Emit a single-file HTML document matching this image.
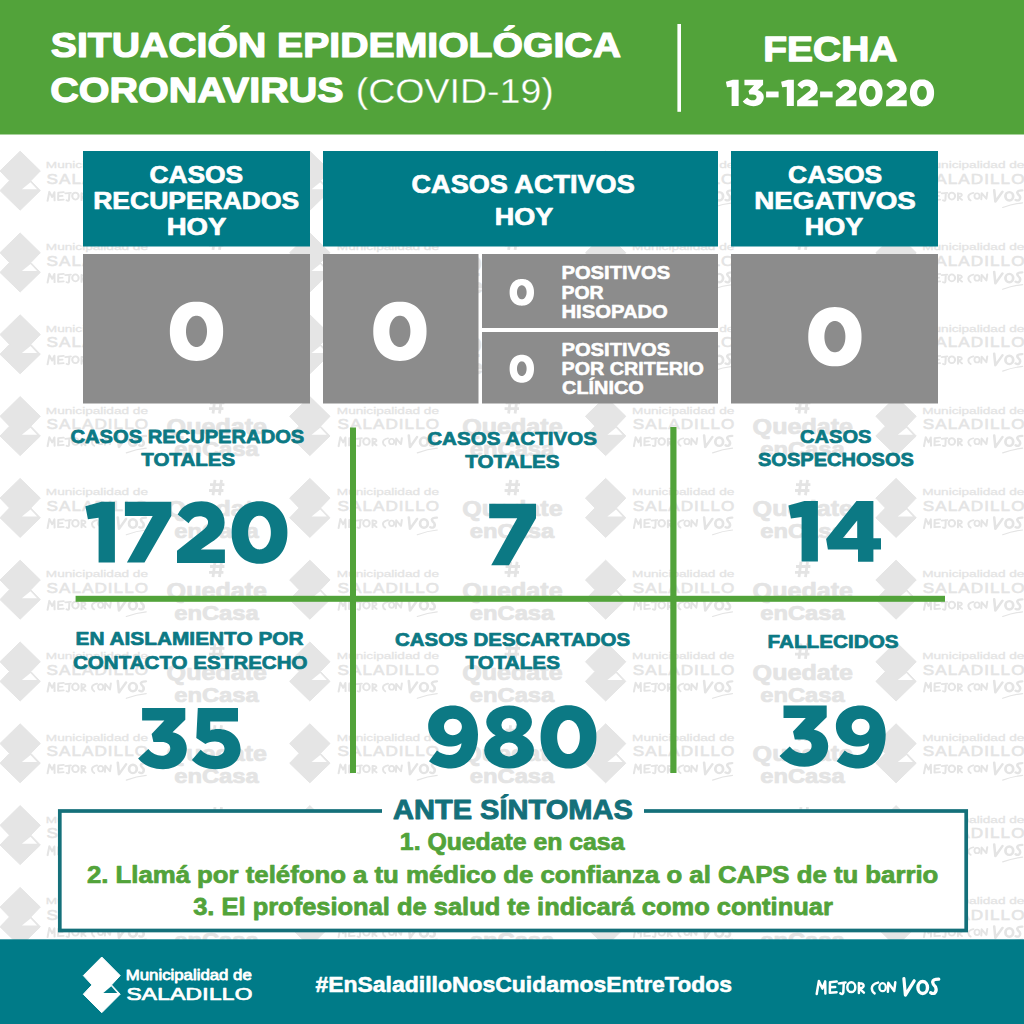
<!DOCTYPE html>
<html lang="es"><head><meta charset="utf-8"><title>Situación Epidemiológica Coronavirus</title>
<style>
html,body{margin:0;padding:0;background:#fff;width:1024px;height:1024px;overflow:hidden}
svg{display:block;font-family:"Liberation Sans",sans-serif}
</style></head><body>
<svg width="1024" height="1024" viewBox="0 0 1024 1024">
<rect x="0" y="0" width="1024" height="1024" fill="#fff"/>
<polygon points="20.15,69.40 40.30,89.11 30.83,98.96 40.30,108.81 20.15,128.40 0.00,108.81 9.47,98.96 0.00,89.11" fill="#e5e5e5" stroke="#e5e5e5" stroke-width="1" stroke-linejoin="round"/><polygon points="30.51,100.49 21.88,107.51 37.08,107.51" fill="#fff"/>
<use href="#mcv" style="color:#e4e4e4" transform="translate(46.70 107.50) scale(0.805 0.70) translate(-815.6 -977.5)" stroke-width="0.8"/>
<path d="M126.30,125.70 Q136.70,121.90 146.20,121.00" fill="none" stroke="#e4e4e4" stroke-width="1.2" stroke-linecap="round"/>
<polygon points="309.85,69.40 330.00,89.11 320.53,98.96 330.00,108.81 309.85,128.40 289.70,108.81 299.17,98.96 289.70,89.11" fill="#e5e5e5" stroke="#e5e5e5" stroke-width="1" stroke-linejoin="round"/><polygon points="320.21,100.49 311.58,107.51 326.78,107.51" fill="#fff"/>
<use href="#mcv" style="color:#e4e4e4" transform="translate(337.70 107.50) scale(0.805 0.70) translate(-815.6 -977.5)" stroke-width="0.8"/>
<path d="M417.30,125.70 Q427.70,121.90 437.20,121.00" fill="none" stroke="#e4e4e4" stroke-width="1.2" stroke-linecap="round"/>
<polygon points="605.65,69.40 625.80,89.11 616.33,98.96 625.80,108.81 605.65,128.40 585.50,108.81 594.97,98.96 585.50,89.11" fill="#e5e5e5" stroke="#e5e5e5" stroke-width="1" stroke-linejoin="round"/><polygon points="616.01,100.49 607.38,107.51 622.58,107.51" fill="#fff"/>
<use href="#mcv" style="color:#e4e4e4" transform="translate(633.00 107.50) scale(0.805 0.70) translate(-815.6 -977.5)" stroke-width="0.8"/>
<path d="M712.60,125.70 Q723.00,121.90 732.50,121.00" fill="none" stroke="#e4e4e4" stroke-width="1.2" stroke-linecap="round"/>
<polygon points="896.05,69.40 916.20,89.11 906.73,98.96 916.20,108.81 896.05,128.40 875.90,108.81 885.37,98.96 875.90,89.11" fill="#e5e5e5" stroke="#e5e5e5" stroke-width="1" stroke-linejoin="round"/><polygon points="906.41,100.49 897.78,107.51 912.98,107.51" fill="#fff"/>
<use href="#mcv" style="color:#e4e4e4" transform="translate(923.10 107.50) scale(0.805 0.70) translate(-815.6 -977.5)" stroke-width="0.8"/>
<path d="M1002.70,125.70 Q1013.10,121.90 1022.60,121.00" fill="none" stroke="#e4e4e4" stroke-width="1.2" stroke-linecap="round"/>
<path d="M215.00,70.90 L213.00,86.30 M221.50,70.90 L219.50,86.30 M210.00,75.70 L224.40,75.70 M209.00,81.50 L223.40,81.50" stroke="#e4e4e4" stroke-width="2.8" fill="none"/>
<path d="M510.60,70.90 L508.60,86.30 M517.10,70.90 L515.10,86.30 M505.60,75.70 L520.00,75.70 M504.60,81.50 L519.00,81.50" stroke="#e4e4e4" stroke-width="2.8" fill="none"/>
<path d="M801.00,70.90 L799.00,86.30 M807.50,70.90 L805.50,86.30 M796.00,75.70 L810.40,75.70 M795.00,81.50 L809.40,81.50" stroke="#e4e4e4" stroke-width="2.8" fill="none"/>
<polygon points="20.15,151.20 40.30,170.91 30.83,180.76 40.30,190.61 20.15,210.20 0.00,190.61 9.47,180.76 0.00,170.91" fill="#e5e5e5" stroke="#e5e5e5" stroke-width="1" stroke-linejoin="round"/><polygon points="30.51,182.29 21.88,189.31 37.08,189.31" fill="#fff"/>
<use href="#mcv" style="color:#e4e4e4" transform="translate(46.70 189.30) scale(0.805 0.70) translate(-815.6 -977.5)" stroke-width="0.8"/>
<path d="M126.30,207.50 Q136.70,203.70 146.20,202.80" fill="none" stroke="#e4e4e4" stroke-width="1.2" stroke-linecap="round"/>
<polygon points="309.85,151.20 330.00,170.91 320.53,180.76 330.00,190.61 309.85,210.20 289.70,190.61 299.17,180.76 289.70,170.91" fill="#e5e5e5" stroke="#e5e5e5" stroke-width="1" stroke-linejoin="round"/><polygon points="320.21,182.29 311.58,189.31 326.78,189.31" fill="#fff"/>
<use href="#mcv" style="color:#e4e4e4" transform="translate(337.70 189.30) scale(0.805 0.70) translate(-815.6 -977.5)" stroke-width="0.8"/>
<path d="M417.30,207.50 Q427.70,203.70 437.20,202.80" fill="none" stroke="#e4e4e4" stroke-width="1.2" stroke-linecap="round"/>
<polygon points="605.65,151.20 625.80,170.91 616.33,180.76 625.80,190.61 605.65,210.20 585.50,190.61 594.97,180.76 585.50,170.91" fill="#e5e5e5" stroke="#e5e5e5" stroke-width="1" stroke-linejoin="round"/><polygon points="616.01,182.29 607.38,189.31 622.58,189.31" fill="#fff"/>
<use href="#mcv" style="color:#e4e4e4" transform="translate(633.00 189.30) scale(0.805 0.70) translate(-815.6 -977.5)" stroke-width="0.8"/>
<path d="M712.60,207.50 Q723.00,203.70 732.50,202.80" fill="none" stroke="#e4e4e4" stroke-width="1.2" stroke-linecap="round"/>
<polygon points="896.05,151.20 916.20,170.91 906.73,180.76 916.20,190.61 896.05,210.20 875.90,190.61 885.37,180.76 875.90,170.91" fill="#e5e5e5" stroke="#e5e5e5" stroke-width="1" stroke-linejoin="round"/><polygon points="906.41,182.29 897.78,189.31 912.98,189.31" fill="#fff"/>
<use href="#mcv" style="color:#e4e4e4" transform="translate(923.10 189.30) scale(0.805 0.70) translate(-815.6 -977.5)" stroke-width="0.8"/>
<path d="M1002.70,207.50 Q1013.10,203.70 1022.60,202.80" fill="none" stroke="#e4e4e4" stroke-width="1.2" stroke-linecap="round"/>
<path d="M215.00,152.70 L213.00,168.10 M221.50,152.70 L219.50,168.10 M210.00,157.50 L224.40,157.50 M209.00,163.30 L223.40,163.30" stroke="#e4e4e4" stroke-width="2.8" fill="none"/>
<path d="M510.60,152.70 L508.60,168.10 M517.10,152.70 L515.10,168.10 M505.60,157.50 L520.00,157.50 M504.60,163.30 L519.00,163.30" stroke="#e4e4e4" stroke-width="2.8" fill="none"/>
<path d="M801.00,152.70 L799.00,168.10 M807.50,152.70 L805.50,168.10 M796.00,157.50 L810.40,157.50 M795.00,163.30 L809.40,163.30" stroke="#e4e4e4" stroke-width="2.8" fill="none"/>
<polygon points="20.15,233.00 40.30,252.71 30.83,262.56 40.30,272.41 20.15,292.00 0.00,272.41 9.47,262.56 0.00,252.71" fill="#e5e5e5" stroke="#e5e5e5" stroke-width="1" stroke-linejoin="round"/><polygon points="30.51,264.09 21.88,271.11 37.08,271.11" fill="#fff"/>
<use href="#mcv" style="color:#e4e4e4" transform="translate(46.70 271.10) scale(0.805 0.70) translate(-815.6 -977.5)" stroke-width="0.8"/>
<path d="M126.30,289.30 Q136.70,285.50 146.20,284.60" fill="none" stroke="#e4e4e4" stroke-width="1.2" stroke-linecap="round"/>
<polygon points="309.85,233.00 330.00,252.71 320.53,262.56 330.00,272.41 309.85,292.00 289.70,272.41 299.17,262.56 289.70,252.71" fill="#e5e5e5" stroke="#e5e5e5" stroke-width="1" stroke-linejoin="round"/><polygon points="320.21,264.09 311.58,271.11 326.78,271.11" fill="#fff"/>
<use href="#mcv" style="color:#e4e4e4" transform="translate(337.70 271.10) scale(0.805 0.70) translate(-815.6 -977.5)" stroke-width="0.8"/>
<path d="M417.30,289.30 Q427.70,285.50 437.20,284.60" fill="none" stroke="#e4e4e4" stroke-width="1.2" stroke-linecap="round"/>
<polygon points="605.65,233.00 625.80,252.71 616.33,262.56 625.80,272.41 605.65,292.00 585.50,272.41 594.97,262.56 585.50,252.71" fill="#e5e5e5" stroke="#e5e5e5" stroke-width="1" stroke-linejoin="round"/><polygon points="616.01,264.09 607.38,271.11 622.58,271.11" fill="#fff"/>
<use href="#mcv" style="color:#e4e4e4" transform="translate(633.00 271.10) scale(0.805 0.70) translate(-815.6 -977.5)" stroke-width="0.8"/>
<path d="M712.60,289.30 Q723.00,285.50 732.50,284.60" fill="none" stroke="#e4e4e4" stroke-width="1.2" stroke-linecap="round"/>
<polygon points="896.05,233.00 916.20,252.71 906.73,262.56 916.20,272.41 896.05,292.00 875.90,272.41 885.37,262.56 875.90,252.71" fill="#e5e5e5" stroke="#e5e5e5" stroke-width="1" stroke-linejoin="round"/><polygon points="906.41,264.09 897.78,271.11 912.98,271.11" fill="#fff"/>
<use href="#mcv" style="color:#e4e4e4" transform="translate(923.10 271.10) scale(0.805 0.70) translate(-815.6 -977.5)" stroke-width="0.8"/>
<path d="M1002.70,289.30 Q1013.10,285.50 1022.60,284.60" fill="none" stroke="#e4e4e4" stroke-width="1.2" stroke-linecap="round"/>
<path d="M215.00,234.50 L213.00,249.90 M221.50,234.50 L219.50,249.90 M210.00,239.30 L224.40,239.30 M209.00,245.10 L223.40,245.10" stroke="#e4e4e4" stroke-width="2.8" fill="none"/>
<path d="M510.60,234.50 L508.60,249.90 M517.10,234.50 L515.10,249.90 M505.60,239.30 L520.00,239.30 M504.60,245.10 L519.00,245.10" stroke="#e4e4e4" stroke-width="2.8" fill="none"/>
<path d="M801.00,234.50 L799.00,249.90 M807.50,234.50 L805.50,249.90 M796.00,239.30 L810.40,239.30 M795.00,245.10 L809.40,245.10" stroke="#e4e4e4" stroke-width="2.8" fill="none"/>
<polygon points="20.15,314.80 40.30,334.51 30.83,344.36 40.30,354.21 20.15,373.80 0.00,354.21 9.47,344.36 0.00,334.51" fill="#e5e5e5" stroke="#e5e5e5" stroke-width="1" stroke-linejoin="round"/><polygon points="30.51,345.89 21.88,352.91 37.08,352.91" fill="#fff"/>
<use href="#mcv" style="color:#e4e4e4" transform="translate(46.70 352.90) scale(0.805 0.70) translate(-815.6 -977.5)" stroke-width="0.8"/>
<path d="M126.30,371.10 Q136.70,367.30 146.20,366.40" fill="none" stroke="#e4e4e4" stroke-width="1.2" stroke-linecap="round"/>
<polygon points="309.85,314.80 330.00,334.51 320.53,344.36 330.00,354.21 309.85,373.80 289.70,354.21 299.17,344.36 289.70,334.51" fill="#e5e5e5" stroke="#e5e5e5" stroke-width="1" stroke-linejoin="round"/><polygon points="320.21,345.89 311.58,352.91 326.78,352.91" fill="#fff"/>
<use href="#mcv" style="color:#e4e4e4" transform="translate(337.70 352.90) scale(0.805 0.70) translate(-815.6 -977.5)" stroke-width="0.8"/>
<path d="M417.30,371.10 Q427.70,367.30 437.20,366.40" fill="none" stroke="#e4e4e4" stroke-width="1.2" stroke-linecap="round"/>
<polygon points="605.65,314.80 625.80,334.51 616.33,344.36 625.80,354.21 605.65,373.80 585.50,354.21 594.97,344.36 585.50,334.51" fill="#e5e5e5" stroke="#e5e5e5" stroke-width="1" stroke-linejoin="round"/><polygon points="616.01,345.89 607.38,352.91 622.58,352.91" fill="#fff"/>
<use href="#mcv" style="color:#e4e4e4" transform="translate(633.00 352.90) scale(0.805 0.70) translate(-815.6 -977.5)" stroke-width="0.8"/>
<path d="M712.60,371.10 Q723.00,367.30 732.50,366.40" fill="none" stroke="#e4e4e4" stroke-width="1.2" stroke-linecap="round"/>
<polygon points="896.05,314.80 916.20,334.51 906.73,344.36 916.20,354.21 896.05,373.80 875.90,354.21 885.37,344.36 875.90,334.51" fill="#e5e5e5" stroke="#e5e5e5" stroke-width="1" stroke-linejoin="round"/><polygon points="906.41,345.89 897.78,352.91 912.98,352.91" fill="#fff"/>
<use href="#mcv" style="color:#e4e4e4" transform="translate(923.10 352.90) scale(0.805 0.70) translate(-815.6 -977.5)" stroke-width="0.8"/>
<path d="M1002.70,371.10 Q1013.10,367.30 1022.60,366.40" fill="none" stroke="#e4e4e4" stroke-width="1.2" stroke-linecap="round"/>
<path d="M215.00,316.30 L213.00,331.70 M221.50,316.30 L219.50,331.70 M210.00,321.10 L224.40,321.10 M209.00,326.90 L223.40,326.90" stroke="#e4e4e4" stroke-width="2.8" fill="none"/>
<path d="M510.60,316.30 L508.60,331.70 M517.10,316.30 L515.10,331.70 M505.60,321.10 L520.00,321.10 M504.60,326.90 L519.00,326.90" stroke="#e4e4e4" stroke-width="2.8" fill="none"/>
<path d="M801.00,316.30 L799.00,331.70 M807.50,316.30 L805.50,331.70 M796.00,321.10 L810.40,321.10 M795.00,326.90 L809.40,326.90" stroke="#e4e4e4" stroke-width="2.8" fill="none"/>
<polygon points="20.15,396.60 40.30,416.31 30.83,426.16 40.30,436.01 20.15,455.60 0.00,436.01 9.47,426.16 0.00,416.31" fill="#e5e5e5" stroke="#e5e5e5" stroke-width="1" stroke-linejoin="round"/><polygon points="30.51,427.69 21.88,434.71 37.08,434.71" fill="#fff"/>
<use href="#mcv" style="color:#e4e4e4" transform="translate(46.70 434.70) scale(0.805 0.70) translate(-815.6 -977.5)" stroke-width="0.8"/>
<path d="M126.30,452.90 Q136.70,449.10 146.20,448.20" fill="none" stroke="#e4e4e4" stroke-width="1.2" stroke-linecap="round"/>
<polygon points="309.85,396.60 330.00,416.31 320.53,426.16 330.00,436.01 309.85,455.60 289.70,436.01 299.17,426.16 289.70,416.31" fill="#e5e5e5" stroke="#e5e5e5" stroke-width="1" stroke-linejoin="round"/><polygon points="320.21,427.69 311.58,434.71 326.78,434.71" fill="#fff"/>
<use href="#mcv" style="color:#e4e4e4" transform="translate(337.70 434.70) scale(0.805 0.70) translate(-815.6 -977.5)" stroke-width="0.8"/>
<path d="M417.30,452.90 Q427.70,449.10 437.20,448.20" fill="none" stroke="#e4e4e4" stroke-width="1.2" stroke-linecap="round"/>
<polygon points="605.65,396.60 625.80,416.31 616.33,426.16 625.80,436.01 605.65,455.60 585.50,436.01 594.97,426.16 585.50,416.31" fill="#e5e5e5" stroke="#e5e5e5" stroke-width="1" stroke-linejoin="round"/><polygon points="616.01,427.69 607.38,434.71 622.58,434.71" fill="#fff"/>
<use href="#mcv" style="color:#e4e4e4" transform="translate(633.00 434.70) scale(0.805 0.70) translate(-815.6 -977.5)" stroke-width="0.8"/>
<path d="M712.60,452.90 Q723.00,449.10 732.50,448.20" fill="none" stroke="#e4e4e4" stroke-width="1.2" stroke-linecap="round"/>
<polygon points="896.05,396.60 916.20,416.31 906.73,426.16 916.20,436.01 896.05,455.60 875.90,436.01 885.37,426.16 875.90,416.31" fill="#e5e5e5" stroke="#e5e5e5" stroke-width="1" stroke-linejoin="round"/><polygon points="906.41,427.69 897.78,434.71 912.98,434.71" fill="#fff"/>
<use href="#mcv" style="color:#e4e4e4" transform="translate(923.10 434.70) scale(0.805 0.70) translate(-815.6 -977.5)" stroke-width="0.8"/>
<path d="M1002.70,452.90 Q1013.10,449.10 1022.60,448.20" fill="none" stroke="#e4e4e4" stroke-width="1.2" stroke-linecap="round"/>
<path d="M215.00,398.10 L213.00,413.50 M221.50,398.10 L219.50,413.50 M210.00,402.90 L224.40,402.90 M209.00,408.70 L223.40,408.70" stroke="#e4e4e4" stroke-width="2.8" fill="none"/>
<path d="M510.60,398.10 L508.60,413.50 M517.10,398.10 L515.10,413.50 M505.60,402.90 L520.00,402.90 M504.60,408.70 L519.00,408.70" stroke="#e4e4e4" stroke-width="2.8" fill="none"/>
<path d="M801.00,398.10 L799.00,413.50 M807.50,398.10 L805.50,413.50 M796.00,402.90 L810.40,402.90 M795.00,408.70 L809.40,408.70" stroke="#e4e4e4" stroke-width="2.8" fill="none"/>
<polygon points="20.15,478.40 40.30,498.11 30.83,507.96 40.30,517.81 20.15,537.40 0.00,517.81 9.47,507.96 0.00,498.11" fill="#e5e5e5" stroke="#e5e5e5" stroke-width="1" stroke-linejoin="round"/><polygon points="30.51,509.49 21.88,516.51 37.08,516.51" fill="#fff"/>
<use href="#mcv" style="color:#e4e4e4" transform="translate(46.70 516.50) scale(0.805 0.70) translate(-815.6 -977.5)" stroke-width="0.8"/>
<path d="M126.30,534.70 Q136.70,530.90 146.20,530.00" fill="none" stroke="#e4e4e4" stroke-width="1.2" stroke-linecap="round"/>
<polygon points="309.85,478.40 330.00,498.11 320.53,507.96 330.00,517.81 309.85,537.40 289.70,517.81 299.17,507.96 289.70,498.11" fill="#e5e5e5" stroke="#e5e5e5" stroke-width="1" stroke-linejoin="round"/><polygon points="320.21,509.49 311.58,516.51 326.78,516.51" fill="#fff"/>
<use href="#mcv" style="color:#e4e4e4" transform="translate(337.70 516.50) scale(0.805 0.70) translate(-815.6 -977.5)" stroke-width="0.8"/>
<path d="M417.30,534.70 Q427.70,530.90 437.20,530.00" fill="none" stroke="#e4e4e4" stroke-width="1.2" stroke-linecap="round"/>
<polygon points="605.65,478.40 625.80,498.11 616.33,507.96 625.80,517.81 605.65,537.40 585.50,517.81 594.97,507.96 585.50,498.11" fill="#e5e5e5" stroke="#e5e5e5" stroke-width="1" stroke-linejoin="round"/><polygon points="616.01,509.49 607.38,516.51 622.58,516.51" fill="#fff"/>
<use href="#mcv" style="color:#e4e4e4" transform="translate(633.00 516.50) scale(0.805 0.70) translate(-815.6 -977.5)" stroke-width="0.8"/>
<path d="M712.60,534.70 Q723.00,530.90 732.50,530.00" fill="none" stroke="#e4e4e4" stroke-width="1.2" stroke-linecap="round"/>
<polygon points="896.05,478.40 916.20,498.11 906.73,507.96 916.20,517.81 896.05,537.40 875.90,517.81 885.37,507.96 875.90,498.11" fill="#e5e5e5" stroke="#e5e5e5" stroke-width="1" stroke-linejoin="round"/><polygon points="906.41,509.49 897.78,516.51 912.98,516.51" fill="#fff"/>
<use href="#mcv" style="color:#e4e4e4" transform="translate(923.10 516.50) scale(0.805 0.70) translate(-815.6 -977.5)" stroke-width="0.8"/>
<path d="M1002.70,534.70 Q1013.10,530.90 1022.60,530.00" fill="none" stroke="#e4e4e4" stroke-width="1.2" stroke-linecap="round"/>
<path d="M215.00,479.90 L213.00,495.30 M221.50,479.90 L219.50,495.30 M210.00,484.70 L224.40,484.70 M209.00,490.50 L223.40,490.50" stroke="#e4e4e4" stroke-width="2.8" fill="none"/>
<path d="M510.60,479.90 L508.60,495.30 M517.10,479.90 L515.10,495.30 M505.60,484.70 L520.00,484.70 M504.60,490.50 L519.00,490.50" stroke="#e4e4e4" stroke-width="2.8" fill="none"/>
<path d="M801.00,479.90 L799.00,495.30 M807.50,479.90 L805.50,495.30 M796.00,484.70 L810.40,484.70 M795.00,490.50 L809.40,490.50" stroke="#e4e4e4" stroke-width="2.8" fill="none"/>
<polygon points="20.15,560.20 40.30,579.91 30.83,589.76 40.30,599.61 20.15,619.20 0.00,599.61 9.47,589.76 0.00,579.91" fill="#e5e5e5" stroke="#e5e5e5" stroke-width="1" stroke-linejoin="round"/><polygon points="30.51,591.29 21.88,598.31 37.08,598.31" fill="#fff"/>
<use href="#mcv" style="color:#e4e4e4" transform="translate(46.70 598.30) scale(0.805 0.70) translate(-815.6 -977.5)" stroke-width="0.8"/>
<path d="M126.30,616.50 Q136.70,612.70 146.20,611.80" fill="none" stroke="#e4e4e4" stroke-width="1.2" stroke-linecap="round"/>
<polygon points="309.85,560.20 330.00,579.91 320.53,589.76 330.00,599.61 309.85,619.20 289.70,599.61 299.17,589.76 289.70,579.91" fill="#e5e5e5" stroke="#e5e5e5" stroke-width="1" stroke-linejoin="round"/><polygon points="320.21,591.29 311.58,598.31 326.78,598.31" fill="#fff"/>
<use href="#mcv" style="color:#e4e4e4" transform="translate(337.70 598.30) scale(0.805 0.70) translate(-815.6 -977.5)" stroke-width="0.8"/>
<path d="M417.30,616.50 Q427.70,612.70 437.20,611.80" fill="none" stroke="#e4e4e4" stroke-width="1.2" stroke-linecap="round"/>
<polygon points="605.65,560.20 625.80,579.91 616.33,589.76 625.80,599.61 605.65,619.20 585.50,599.61 594.97,589.76 585.50,579.91" fill="#e5e5e5" stroke="#e5e5e5" stroke-width="1" stroke-linejoin="round"/><polygon points="616.01,591.29 607.38,598.31 622.58,598.31" fill="#fff"/>
<use href="#mcv" style="color:#e4e4e4" transform="translate(633.00 598.30) scale(0.805 0.70) translate(-815.6 -977.5)" stroke-width="0.8"/>
<path d="M712.60,616.50 Q723.00,612.70 732.50,611.80" fill="none" stroke="#e4e4e4" stroke-width="1.2" stroke-linecap="round"/>
<polygon points="896.05,560.20 916.20,579.91 906.73,589.76 916.20,599.61 896.05,619.20 875.90,599.61 885.37,589.76 875.90,579.91" fill="#e5e5e5" stroke="#e5e5e5" stroke-width="1" stroke-linejoin="round"/><polygon points="906.41,591.29 897.78,598.31 912.98,598.31" fill="#fff"/>
<use href="#mcv" style="color:#e4e4e4" transform="translate(923.10 598.30) scale(0.805 0.70) translate(-815.6 -977.5)" stroke-width="0.8"/>
<path d="M1002.70,616.50 Q1013.10,612.70 1022.60,611.80" fill="none" stroke="#e4e4e4" stroke-width="1.2" stroke-linecap="round"/>
<path d="M215.00,561.70 L213.00,577.10 M221.50,561.70 L219.50,577.10 M210.00,566.50 L224.40,566.50 M209.00,572.30 L223.40,572.30" stroke="#e4e4e4" stroke-width="2.8" fill="none"/>
<path d="M510.60,561.70 L508.60,577.10 M517.10,561.70 L515.10,577.10 M505.60,566.50 L520.00,566.50 M504.60,572.30 L519.00,572.30" stroke="#e4e4e4" stroke-width="2.8" fill="none"/>
<path d="M801.00,561.70 L799.00,577.10 M807.50,561.70 L805.50,577.10 M796.00,566.50 L810.40,566.50 M795.00,572.30 L809.40,572.30" stroke="#e4e4e4" stroke-width="2.8" fill="none"/>
<polygon points="20.15,642.00 40.30,661.71 30.83,671.56 40.30,681.41 20.15,701.00 0.00,681.41 9.47,671.56 0.00,661.71" fill="#e5e5e5" stroke="#e5e5e5" stroke-width="1" stroke-linejoin="round"/><polygon points="30.51,673.09 21.88,680.11 37.08,680.11" fill="#fff"/>
<use href="#mcv" style="color:#e4e4e4" transform="translate(46.70 680.10) scale(0.805 0.70) translate(-815.6 -977.5)" stroke-width="0.8"/>
<path d="M126.30,698.30 Q136.70,694.50 146.20,693.60" fill="none" stroke="#e4e4e4" stroke-width="1.2" stroke-linecap="round"/>
<polygon points="309.85,642.00 330.00,661.71 320.53,671.56 330.00,681.41 309.85,701.00 289.70,681.41 299.17,671.56 289.70,661.71" fill="#e5e5e5" stroke="#e5e5e5" stroke-width="1" stroke-linejoin="round"/><polygon points="320.21,673.09 311.58,680.11 326.78,680.11" fill="#fff"/>
<use href="#mcv" style="color:#e4e4e4" transform="translate(337.70 680.10) scale(0.805 0.70) translate(-815.6 -977.5)" stroke-width="0.8"/>
<path d="M417.30,698.30 Q427.70,694.50 437.20,693.60" fill="none" stroke="#e4e4e4" stroke-width="1.2" stroke-linecap="round"/>
<polygon points="605.65,642.00 625.80,661.71 616.33,671.56 625.80,681.41 605.65,701.00 585.50,681.41 594.97,671.56 585.50,661.71" fill="#e5e5e5" stroke="#e5e5e5" stroke-width="1" stroke-linejoin="round"/><polygon points="616.01,673.09 607.38,680.11 622.58,680.11" fill="#fff"/>
<use href="#mcv" style="color:#e4e4e4" transform="translate(633.00 680.10) scale(0.805 0.70) translate(-815.6 -977.5)" stroke-width="0.8"/>
<path d="M712.60,698.30 Q723.00,694.50 732.50,693.60" fill="none" stroke="#e4e4e4" stroke-width="1.2" stroke-linecap="round"/>
<polygon points="896.05,642.00 916.20,661.71 906.73,671.56 916.20,681.41 896.05,701.00 875.90,681.41 885.37,671.56 875.90,661.71" fill="#e5e5e5" stroke="#e5e5e5" stroke-width="1" stroke-linejoin="round"/><polygon points="906.41,673.09 897.78,680.11 912.98,680.11" fill="#fff"/>
<use href="#mcv" style="color:#e4e4e4" transform="translate(923.10 680.10) scale(0.805 0.70) translate(-815.6 -977.5)" stroke-width="0.8"/>
<path d="M1002.70,698.30 Q1013.10,694.50 1022.60,693.60" fill="none" stroke="#e4e4e4" stroke-width="1.2" stroke-linecap="round"/>
<path d="M215.00,643.50 L213.00,658.90 M221.50,643.50 L219.50,658.90 M210.00,648.30 L224.40,648.30 M209.00,654.10 L223.40,654.10" stroke="#e4e4e4" stroke-width="2.8" fill="none"/>
<path d="M510.60,643.50 L508.60,658.90 M517.10,643.50 L515.10,658.90 M505.60,648.30 L520.00,648.30 M504.60,654.10 L519.00,654.10" stroke="#e4e4e4" stroke-width="2.8" fill="none"/>
<path d="M801.00,643.50 L799.00,658.90 M807.50,643.50 L805.50,658.90 M796.00,648.30 L810.40,648.30 M795.00,654.10 L809.40,654.10" stroke="#e4e4e4" stroke-width="2.8" fill="none"/>
<polygon points="20.15,723.80 40.30,743.51 30.83,753.36 40.30,763.21 20.15,782.80 0.00,763.21 9.47,753.36 0.00,743.51" fill="#e5e5e5" stroke="#e5e5e5" stroke-width="1" stroke-linejoin="round"/><polygon points="30.51,754.89 21.88,761.91 37.08,761.91" fill="#fff"/>
<use href="#mcv" style="color:#e4e4e4" transform="translate(46.70 761.90) scale(0.805 0.70) translate(-815.6 -977.5)" stroke-width="0.8"/>
<path d="M126.30,780.10 Q136.70,776.30 146.20,775.40" fill="none" stroke="#e4e4e4" stroke-width="1.2" stroke-linecap="round"/>
<polygon points="309.85,723.80 330.00,743.51 320.53,753.36 330.00,763.21 309.85,782.80 289.70,763.21 299.17,753.36 289.70,743.51" fill="#e5e5e5" stroke="#e5e5e5" stroke-width="1" stroke-linejoin="round"/><polygon points="320.21,754.89 311.58,761.91 326.78,761.91" fill="#fff"/>
<use href="#mcv" style="color:#e4e4e4" transform="translate(337.70 761.90) scale(0.805 0.70) translate(-815.6 -977.5)" stroke-width="0.8"/>
<path d="M417.30,780.10 Q427.70,776.30 437.20,775.40" fill="none" stroke="#e4e4e4" stroke-width="1.2" stroke-linecap="round"/>
<polygon points="605.65,723.80 625.80,743.51 616.33,753.36 625.80,763.21 605.65,782.80 585.50,763.21 594.97,753.36 585.50,743.51" fill="#e5e5e5" stroke="#e5e5e5" stroke-width="1" stroke-linejoin="round"/><polygon points="616.01,754.89 607.38,761.91 622.58,761.91" fill="#fff"/>
<use href="#mcv" style="color:#e4e4e4" transform="translate(633.00 761.90) scale(0.805 0.70) translate(-815.6 -977.5)" stroke-width="0.8"/>
<path d="M712.60,780.10 Q723.00,776.30 732.50,775.40" fill="none" stroke="#e4e4e4" stroke-width="1.2" stroke-linecap="round"/>
<polygon points="896.05,723.80 916.20,743.51 906.73,753.36 916.20,763.21 896.05,782.80 875.90,763.21 885.37,753.36 875.90,743.51" fill="#e5e5e5" stroke="#e5e5e5" stroke-width="1" stroke-linejoin="round"/><polygon points="906.41,754.89 897.78,761.91 912.98,761.91" fill="#fff"/>
<use href="#mcv" style="color:#e4e4e4" transform="translate(923.10 761.90) scale(0.805 0.70) translate(-815.6 -977.5)" stroke-width="0.8"/>
<path d="M1002.70,780.10 Q1013.10,776.30 1022.60,775.40" fill="none" stroke="#e4e4e4" stroke-width="1.2" stroke-linecap="round"/>
<path d="M215.00,725.30 L213.00,740.70 M221.50,725.30 L219.50,740.70 M210.00,730.10 L224.40,730.10 M209.00,735.90 L223.40,735.90" stroke="#e4e4e4" stroke-width="2.8" fill="none"/>
<path d="M510.60,725.30 L508.60,740.70 M517.10,725.30 L515.10,740.70 M505.60,730.10 L520.00,730.10 M504.60,735.90 L519.00,735.90" stroke="#e4e4e4" stroke-width="2.8" fill="none"/>
<path d="M801.00,725.30 L799.00,740.70 M807.50,725.30 L805.50,740.70 M796.00,730.10 L810.40,730.10 M795.00,735.90 L809.40,735.90" stroke="#e4e4e4" stroke-width="2.8" fill="none"/>
<polygon points="20.15,805.60 40.30,825.31 30.83,835.16 40.30,845.01 20.15,864.60 0.00,845.01 9.47,835.16 0.00,825.31" fill="#e5e5e5" stroke="#e5e5e5" stroke-width="1" stroke-linejoin="round"/><polygon points="30.51,836.69 21.88,843.71 37.08,843.71" fill="#fff"/>
<use href="#mcv" style="color:#e4e4e4" transform="translate(46.70 843.70) scale(0.805 0.70) translate(-815.6 -977.5)" stroke-width="0.8"/>
<path d="M126.30,861.90 Q136.70,858.10 146.20,857.20" fill="none" stroke="#e4e4e4" stroke-width="1.2" stroke-linecap="round"/>
<polygon points="309.85,805.60 330.00,825.31 320.53,835.16 330.00,845.01 309.85,864.60 289.70,845.01 299.17,835.16 289.70,825.31" fill="#e5e5e5" stroke="#e5e5e5" stroke-width="1" stroke-linejoin="round"/><polygon points="320.21,836.69 311.58,843.71 326.78,843.71" fill="#fff"/>
<use href="#mcv" style="color:#e4e4e4" transform="translate(337.70 843.70) scale(0.805 0.70) translate(-815.6 -977.5)" stroke-width="0.8"/>
<path d="M417.30,861.90 Q427.70,858.10 437.20,857.20" fill="none" stroke="#e4e4e4" stroke-width="1.2" stroke-linecap="round"/>
<polygon points="605.65,805.60 625.80,825.31 616.33,835.16 625.80,845.01 605.65,864.60 585.50,845.01 594.97,835.16 585.50,825.31" fill="#e5e5e5" stroke="#e5e5e5" stroke-width="1" stroke-linejoin="round"/><polygon points="616.01,836.69 607.38,843.71 622.58,843.71" fill="#fff"/>
<use href="#mcv" style="color:#e4e4e4" transform="translate(633.00 843.70) scale(0.805 0.70) translate(-815.6 -977.5)" stroke-width="0.8"/>
<path d="M712.60,861.90 Q723.00,858.10 732.50,857.20" fill="none" stroke="#e4e4e4" stroke-width="1.2" stroke-linecap="round"/>
<polygon points="896.05,805.60 916.20,825.31 906.73,835.16 916.20,845.01 896.05,864.60 875.90,845.01 885.37,835.16 875.90,825.31" fill="#e5e5e5" stroke="#e5e5e5" stroke-width="1" stroke-linejoin="round"/><polygon points="906.41,836.69 897.78,843.71 912.98,843.71" fill="#fff"/>
<use href="#mcv" style="color:#e4e4e4" transform="translate(923.10 843.70) scale(0.805 0.70) translate(-815.6 -977.5)" stroke-width="0.8"/>
<path d="M1002.70,861.90 Q1013.10,858.10 1022.60,857.20" fill="none" stroke="#e4e4e4" stroke-width="1.2" stroke-linecap="round"/>
<path d="M215.00,807.10 L213.00,822.50 M221.50,807.10 L219.50,822.50 M210.00,811.90 L224.40,811.90 M209.00,817.70 L223.40,817.70" stroke="#e4e4e4" stroke-width="2.8" fill="none"/>
<path d="M510.60,807.10 L508.60,822.50 M517.10,807.10 L515.10,822.50 M505.60,811.90 L520.00,811.90 M504.60,817.70 L519.00,817.70" stroke="#e4e4e4" stroke-width="2.8" fill="none"/>
<path d="M801.00,807.10 L799.00,822.50 M807.50,807.10 L805.50,822.50 M796.00,811.90 L810.40,811.90 M795.00,817.70 L809.40,817.70" stroke="#e4e4e4" stroke-width="2.8" fill="none"/>
<polygon points="20.15,887.40 40.30,907.11 30.83,916.96 40.30,926.81 20.15,946.40 0.00,926.81 9.47,916.96 0.00,907.11" fill="#e5e5e5" stroke="#e5e5e5" stroke-width="1" stroke-linejoin="round"/><polygon points="30.51,918.49 21.88,925.51 37.08,925.51" fill="#fff"/>
<use href="#mcv" style="color:#e4e4e4" transform="translate(46.70 925.50) scale(0.805 0.70) translate(-815.6 -977.5)" stroke-width="0.8"/>
<path d="M126.30,943.70 Q136.70,939.90 146.20,939.00" fill="none" stroke="#e4e4e4" stroke-width="1.2" stroke-linecap="round"/>
<polygon points="309.85,887.40 330.00,907.11 320.53,916.96 330.00,926.81 309.85,946.40 289.70,926.81 299.17,916.96 289.70,907.11" fill="#e5e5e5" stroke="#e5e5e5" stroke-width="1" stroke-linejoin="round"/><polygon points="320.21,918.49 311.58,925.51 326.78,925.51" fill="#fff"/>
<use href="#mcv" style="color:#e4e4e4" transform="translate(337.70 925.50) scale(0.805 0.70) translate(-815.6 -977.5)" stroke-width="0.8"/>
<path d="M417.30,943.70 Q427.70,939.90 437.20,939.00" fill="none" stroke="#e4e4e4" stroke-width="1.2" stroke-linecap="round"/>
<polygon points="605.65,887.40 625.80,907.11 616.33,916.96 625.80,926.81 605.65,946.40 585.50,926.81 594.97,916.96 585.50,907.11" fill="#e5e5e5" stroke="#e5e5e5" stroke-width="1" stroke-linejoin="round"/><polygon points="616.01,918.49 607.38,925.51 622.58,925.51" fill="#fff"/>
<use href="#mcv" style="color:#e4e4e4" transform="translate(633.00 925.50) scale(0.805 0.70) translate(-815.6 -977.5)" stroke-width="0.8"/>
<path d="M712.60,943.70 Q723.00,939.90 732.50,939.00" fill="none" stroke="#e4e4e4" stroke-width="1.2" stroke-linecap="round"/>
<polygon points="896.05,887.40 916.20,907.11 906.73,916.96 916.20,926.81 896.05,946.40 875.90,926.81 885.37,916.96 875.90,907.11" fill="#e5e5e5" stroke="#e5e5e5" stroke-width="1" stroke-linejoin="round"/><polygon points="906.41,918.49 897.78,925.51 912.98,925.51" fill="#fff"/>
<use href="#mcv" style="color:#e4e4e4" transform="translate(923.10 925.50) scale(0.805 0.70) translate(-815.6 -977.5)" stroke-width="0.8"/>
<path d="M1002.70,943.70 Q1013.10,939.90 1022.60,939.00" fill="none" stroke="#e4e4e4" stroke-width="1.2" stroke-linecap="round"/>
<path d="M215.00,888.90 L213.00,904.30 M221.50,888.90 L219.50,904.30 M210.00,893.70 L224.40,893.70 M209.00,899.50 L223.40,899.50" stroke="#e4e4e4" stroke-width="2.8" fill="none"/>
<path d="M510.60,888.90 L508.60,904.30 M517.10,888.90 L515.10,904.30 M505.60,893.70 L520.00,893.70 M504.60,899.50 L519.00,899.50" stroke="#e4e4e4" stroke-width="2.8" fill="none"/>
<path d="M801.00,888.90 L799.00,904.30 M807.50,888.90 L805.50,904.30 M796.00,893.70 L810.40,893.70 M795.00,899.50 L809.40,899.50" stroke="#e4e4e4" stroke-width="2.8" fill="none"/>
<text transform="translate(45.81 86.34) scale(1.4121 1)" font-size="9.65" font-weight="normal" fill="#e4e4e4" stroke="#e4e4e4" stroke-width="0.25" stroke-linejoin="round">Municipalidad de</text>
<text transform="translate(46.46 102.01) scale(1.2000 1)" font-size="14.27" letter-spacing="0.872" font-weight="normal" fill="#e4e4e4" stroke="#e4e4e4" stroke-width="0.50" stroke-linejoin="round">SALADILLO</text>
<text transform="translate(336.81 86.34) scale(1.4121 1)" font-size="9.65" font-weight="normal" fill="#e4e4e4" stroke="#e4e4e4" stroke-width="0.25" stroke-linejoin="round">Municipalidad de</text>
<text transform="translate(337.46 102.01) scale(1.2000 1)" font-size="14.27" letter-spacing="0.872" font-weight="normal" fill="#e4e4e4" stroke="#e4e4e4" stroke-width="0.50" stroke-linejoin="round">SALADILLO</text>
<text transform="translate(632.11 86.34) scale(1.4121 1)" font-size="9.65" font-weight="normal" fill="#e4e4e4" stroke="#e4e4e4" stroke-width="0.25" stroke-linejoin="round">Municipalidad de</text>
<text transform="translate(632.76 102.01) scale(1.2000 1)" font-size="14.27" letter-spacing="0.872" font-weight="normal" fill="#e4e4e4" stroke="#e4e4e4" stroke-width="0.50" stroke-linejoin="round">SALADILLO</text>
<text transform="translate(922.21 86.34) scale(1.4121 1)" font-size="9.65" font-weight="normal" fill="#e4e4e4" stroke="#e4e4e4" stroke-width="0.25" stroke-linejoin="round">Municipalidad de</text>
<text transform="translate(922.86 102.01) scale(1.2000 1)" font-size="14.27" letter-spacing="0.872" font-weight="normal" fill="#e4e4e4" stroke="#e4e4e4" stroke-width="0.50" stroke-linejoin="round">SALADILLO</text>
<text transform="translate(166.62 107.01) scale(1.1805 1)" font-size="21.26" font-weight="bold" fill="#e4e4e4" stroke="#e4e4e4" stroke-width="0.68" stroke-linejoin="round">Quedate</text>
<text transform="translate(174.16 128.91) scale(1.1409 1)" font-size="20.84" font-weight="bold" fill="#e4e4e4" stroke="#e4e4e4" stroke-width="0.70" stroke-linejoin="round">enCasa</text>
<text transform="translate(462.22 107.01) scale(1.1805 1)" font-size="21.26" font-weight="bold" fill="#e4e4e4" stroke="#e4e4e4" stroke-width="0.68" stroke-linejoin="round">Quedate</text>
<text transform="translate(469.76 128.91) scale(1.1409 1)" font-size="20.84" font-weight="bold" fill="#e4e4e4" stroke="#e4e4e4" stroke-width="0.70" stroke-linejoin="round">enCasa</text>
<text transform="translate(752.62 107.01) scale(1.1805 1)" font-size="21.26" font-weight="bold" fill="#e4e4e4" stroke="#e4e4e4" stroke-width="0.68" stroke-linejoin="round">Quedate</text>
<text transform="translate(760.16 128.91) scale(1.1409 1)" font-size="20.84" font-weight="bold" fill="#e4e4e4" stroke="#e4e4e4" stroke-width="0.70" stroke-linejoin="round">enCasa</text>
<text transform="translate(45.81 168.14) scale(1.4121 1)" font-size="9.65" font-weight="normal" fill="#e4e4e4" stroke="#e4e4e4" stroke-width="0.25" stroke-linejoin="round">Municipalidad de</text>
<text transform="translate(46.46 183.81) scale(1.2000 1)" font-size="14.27" letter-spacing="0.872" font-weight="normal" fill="#e4e4e4" stroke="#e4e4e4" stroke-width="0.50" stroke-linejoin="round">SALADILLO</text>
<text transform="translate(336.81 168.14) scale(1.4121 1)" font-size="9.65" font-weight="normal" fill="#e4e4e4" stroke="#e4e4e4" stroke-width="0.25" stroke-linejoin="round">Municipalidad de</text>
<text transform="translate(337.46 183.81) scale(1.2000 1)" font-size="14.27" letter-spacing="0.872" font-weight="normal" fill="#e4e4e4" stroke="#e4e4e4" stroke-width="0.50" stroke-linejoin="round">SALADILLO</text>
<text transform="translate(632.11 168.14) scale(1.4121 1)" font-size="9.65" font-weight="normal" fill="#e4e4e4" stroke="#e4e4e4" stroke-width="0.25" stroke-linejoin="round">Municipalidad de</text>
<text transform="translate(632.76 183.81) scale(1.2000 1)" font-size="14.27" letter-spacing="0.872" font-weight="normal" fill="#e4e4e4" stroke="#e4e4e4" stroke-width="0.50" stroke-linejoin="round">SALADILLO</text>
<text transform="translate(922.21 168.14) scale(1.4121 1)" font-size="9.65" font-weight="normal" fill="#e4e4e4" stroke="#e4e4e4" stroke-width="0.25" stroke-linejoin="round">Municipalidad de</text>
<text transform="translate(922.86 183.81) scale(1.2000 1)" font-size="14.27" letter-spacing="0.872" font-weight="normal" fill="#e4e4e4" stroke="#e4e4e4" stroke-width="0.50" stroke-linejoin="round">SALADILLO</text>
<text transform="translate(166.62 188.81) scale(1.1805 1)" font-size="21.26" font-weight="bold" fill="#e4e4e4" stroke="#e4e4e4" stroke-width="0.68" stroke-linejoin="round">Quedate</text>
<text transform="translate(174.16 210.71) scale(1.1409 1)" font-size="20.84" font-weight="bold" fill="#e4e4e4" stroke="#e4e4e4" stroke-width="0.70" stroke-linejoin="round">enCasa</text>
<text transform="translate(462.22 188.81) scale(1.1805 1)" font-size="21.26" font-weight="bold" fill="#e4e4e4" stroke="#e4e4e4" stroke-width="0.68" stroke-linejoin="round">Quedate</text>
<text transform="translate(469.76 210.71) scale(1.1409 1)" font-size="20.84" font-weight="bold" fill="#e4e4e4" stroke="#e4e4e4" stroke-width="0.70" stroke-linejoin="round">enCasa</text>
<text transform="translate(752.62 188.81) scale(1.1805 1)" font-size="21.26" font-weight="bold" fill="#e4e4e4" stroke="#e4e4e4" stroke-width="0.68" stroke-linejoin="round">Quedate</text>
<text transform="translate(760.16 210.71) scale(1.1409 1)" font-size="20.84" font-weight="bold" fill="#e4e4e4" stroke="#e4e4e4" stroke-width="0.70" stroke-linejoin="round">enCasa</text>
<text transform="translate(45.81 249.94) scale(1.4121 1)" font-size="9.65" font-weight="normal" fill="#e4e4e4" stroke="#e4e4e4" stroke-width="0.25" stroke-linejoin="round">Municipalidad de</text>
<text transform="translate(46.46 265.61) scale(1.2000 1)" font-size="14.27" letter-spacing="0.872" font-weight="normal" fill="#e4e4e4" stroke="#e4e4e4" stroke-width="0.50" stroke-linejoin="round">SALADILLO</text>
<text transform="translate(336.81 249.94) scale(1.4121 1)" font-size="9.65" font-weight="normal" fill="#e4e4e4" stroke="#e4e4e4" stroke-width="0.25" stroke-linejoin="round">Municipalidad de</text>
<text transform="translate(337.46 265.61) scale(1.2000 1)" font-size="14.27" letter-spacing="0.872" font-weight="normal" fill="#e4e4e4" stroke="#e4e4e4" stroke-width="0.50" stroke-linejoin="round">SALADILLO</text>
<text transform="translate(632.11 249.94) scale(1.4121 1)" font-size="9.65" font-weight="normal" fill="#e4e4e4" stroke="#e4e4e4" stroke-width="0.25" stroke-linejoin="round">Municipalidad de</text>
<text transform="translate(632.76 265.61) scale(1.2000 1)" font-size="14.27" letter-spacing="0.872" font-weight="normal" fill="#e4e4e4" stroke="#e4e4e4" stroke-width="0.50" stroke-linejoin="round">SALADILLO</text>
<text transform="translate(922.21 249.94) scale(1.4121 1)" font-size="9.65" font-weight="normal" fill="#e4e4e4" stroke="#e4e4e4" stroke-width="0.25" stroke-linejoin="round">Municipalidad de</text>
<text transform="translate(922.86 265.61) scale(1.2000 1)" font-size="14.27" letter-spacing="0.872" font-weight="normal" fill="#e4e4e4" stroke="#e4e4e4" stroke-width="0.50" stroke-linejoin="round">SALADILLO</text>
<text transform="translate(166.62 270.61) scale(1.1805 1)" font-size="21.26" font-weight="bold" fill="#e4e4e4" stroke="#e4e4e4" stroke-width="0.68" stroke-linejoin="round">Quedate</text>
<text transform="translate(174.16 292.51) scale(1.1409 1)" font-size="20.84" font-weight="bold" fill="#e4e4e4" stroke="#e4e4e4" stroke-width="0.70" stroke-linejoin="round">enCasa</text>
<text transform="translate(462.22 270.61) scale(1.1805 1)" font-size="21.26" font-weight="bold" fill="#e4e4e4" stroke="#e4e4e4" stroke-width="0.68" stroke-linejoin="round">Quedate</text>
<text transform="translate(469.76 292.51) scale(1.1409 1)" font-size="20.84" font-weight="bold" fill="#e4e4e4" stroke="#e4e4e4" stroke-width="0.70" stroke-linejoin="round">enCasa</text>
<text transform="translate(752.62 270.61) scale(1.1805 1)" font-size="21.26" font-weight="bold" fill="#e4e4e4" stroke="#e4e4e4" stroke-width="0.68" stroke-linejoin="round">Quedate</text>
<text transform="translate(760.16 292.51) scale(1.1409 1)" font-size="20.84" font-weight="bold" fill="#e4e4e4" stroke="#e4e4e4" stroke-width="0.70" stroke-linejoin="round">enCasa</text>
<text transform="translate(45.81 331.74) scale(1.4121 1)" font-size="9.65" font-weight="normal" fill="#e4e4e4" stroke="#e4e4e4" stroke-width="0.25" stroke-linejoin="round">Municipalidad de</text>
<text transform="translate(46.46 347.41) scale(1.2000 1)" font-size="14.27" letter-spacing="0.872" font-weight="normal" fill="#e4e4e4" stroke="#e4e4e4" stroke-width="0.50" stroke-linejoin="round">SALADILLO</text>
<text transform="translate(336.81 331.74) scale(1.4121 1)" font-size="9.65" font-weight="normal" fill="#e4e4e4" stroke="#e4e4e4" stroke-width="0.25" stroke-linejoin="round">Municipalidad de</text>
<text transform="translate(337.46 347.41) scale(1.2000 1)" font-size="14.27" letter-spacing="0.872" font-weight="normal" fill="#e4e4e4" stroke="#e4e4e4" stroke-width="0.50" stroke-linejoin="round">SALADILLO</text>
<text transform="translate(632.11 331.74) scale(1.4121 1)" font-size="9.65" font-weight="normal" fill="#e4e4e4" stroke="#e4e4e4" stroke-width="0.25" stroke-linejoin="round">Municipalidad de</text>
<text transform="translate(632.76 347.41) scale(1.2000 1)" font-size="14.27" letter-spacing="0.872" font-weight="normal" fill="#e4e4e4" stroke="#e4e4e4" stroke-width="0.50" stroke-linejoin="round">SALADILLO</text>
<text transform="translate(922.21 331.74) scale(1.4121 1)" font-size="9.65" font-weight="normal" fill="#e4e4e4" stroke="#e4e4e4" stroke-width="0.25" stroke-linejoin="round">Municipalidad de</text>
<text transform="translate(922.86 347.41) scale(1.2000 1)" font-size="14.27" letter-spacing="0.872" font-weight="normal" fill="#e4e4e4" stroke="#e4e4e4" stroke-width="0.50" stroke-linejoin="round">SALADILLO</text>
<text transform="translate(166.62 352.41) scale(1.1805 1)" font-size="21.26" font-weight="bold" fill="#e4e4e4" stroke="#e4e4e4" stroke-width="0.68" stroke-linejoin="round">Quedate</text>
<text transform="translate(174.16 374.31) scale(1.1409 1)" font-size="20.84" font-weight="bold" fill="#e4e4e4" stroke="#e4e4e4" stroke-width="0.70" stroke-linejoin="round">enCasa</text>
<text transform="translate(462.22 352.41) scale(1.1805 1)" font-size="21.26" font-weight="bold" fill="#e4e4e4" stroke="#e4e4e4" stroke-width="0.68" stroke-linejoin="round">Quedate</text>
<text transform="translate(469.76 374.31) scale(1.1409 1)" font-size="20.84" font-weight="bold" fill="#e4e4e4" stroke="#e4e4e4" stroke-width="0.70" stroke-linejoin="round">enCasa</text>
<text transform="translate(752.62 352.41) scale(1.1805 1)" font-size="21.26" font-weight="bold" fill="#e4e4e4" stroke="#e4e4e4" stroke-width="0.68" stroke-linejoin="round">Quedate</text>
<text transform="translate(760.16 374.31) scale(1.1409 1)" font-size="20.84" font-weight="bold" fill="#e4e4e4" stroke="#e4e4e4" stroke-width="0.70" stroke-linejoin="round">enCasa</text>
<text transform="translate(45.81 413.54) scale(1.4121 1)" font-size="9.65" font-weight="normal" fill="#e4e4e4" stroke="#e4e4e4" stroke-width="0.25" stroke-linejoin="round">Municipalidad de</text>
<text transform="translate(46.46 429.21) scale(1.2000 1)" font-size="14.27" letter-spacing="0.872" font-weight="normal" fill="#e4e4e4" stroke="#e4e4e4" stroke-width="0.50" stroke-linejoin="round">SALADILLO</text>
<text transform="translate(336.81 413.54) scale(1.4121 1)" font-size="9.65" font-weight="normal" fill="#e4e4e4" stroke="#e4e4e4" stroke-width="0.25" stroke-linejoin="round">Municipalidad de</text>
<text transform="translate(337.46 429.21) scale(1.2000 1)" font-size="14.27" letter-spacing="0.872" font-weight="normal" fill="#e4e4e4" stroke="#e4e4e4" stroke-width="0.50" stroke-linejoin="round">SALADILLO</text>
<text transform="translate(632.11 413.54) scale(1.4121 1)" font-size="9.65" font-weight="normal" fill="#e4e4e4" stroke="#e4e4e4" stroke-width="0.25" stroke-linejoin="round">Municipalidad de</text>
<text transform="translate(632.76 429.21) scale(1.2000 1)" font-size="14.27" letter-spacing="0.872" font-weight="normal" fill="#e4e4e4" stroke="#e4e4e4" stroke-width="0.50" stroke-linejoin="round">SALADILLO</text>
<text transform="translate(922.21 413.54) scale(1.4121 1)" font-size="9.65" font-weight="normal" fill="#e4e4e4" stroke="#e4e4e4" stroke-width="0.25" stroke-linejoin="round">Municipalidad de</text>
<text transform="translate(922.86 429.21) scale(1.2000 1)" font-size="14.27" letter-spacing="0.872" font-weight="normal" fill="#e4e4e4" stroke="#e4e4e4" stroke-width="0.50" stroke-linejoin="round">SALADILLO</text>
<text transform="translate(166.62 434.21) scale(1.1805 1)" font-size="21.26" font-weight="bold" fill="#e4e4e4" stroke="#e4e4e4" stroke-width="0.68" stroke-linejoin="round">Quedate</text>
<text transform="translate(174.16 456.11) scale(1.1409 1)" font-size="20.84" font-weight="bold" fill="#e4e4e4" stroke="#e4e4e4" stroke-width="0.70" stroke-linejoin="round">enCasa</text>
<text transform="translate(462.22 434.21) scale(1.1805 1)" font-size="21.26" font-weight="bold" fill="#e4e4e4" stroke="#e4e4e4" stroke-width="0.68" stroke-linejoin="round">Quedate</text>
<text transform="translate(469.76 456.11) scale(1.1409 1)" font-size="20.84" font-weight="bold" fill="#e4e4e4" stroke="#e4e4e4" stroke-width="0.70" stroke-linejoin="round">enCasa</text>
<text transform="translate(752.62 434.21) scale(1.1805 1)" font-size="21.26" font-weight="bold" fill="#e4e4e4" stroke="#e4e4e4" stroke-width="0.68" stroke-linejoin="round">Quedate</text>
<text transform="translate(760.16 456.11) scale(1.1409 1)" font-size="20.84" font-weight="bold" fill="#e4e4e4" stroke="#e4e4e4" stroke-width="0.70" stroke-linejoin="round">enCasa</text>
<text transform="translate(45.81 495.34) scale(1.4121 1)" font-size="9.65" font-weight="normal" fill="#e4e4e4" stroke="#e4e4e4" stroke-width="0.25" stroke-linejoin="round">Municipalidad de</text>
<text transform="translate(46.46 511.01) scale(1.2000 1)" font-size="14.27" letter-spacing="0.872" font-weight="normal" fill="#e4e4e4" stroke="#e4e4e4" stroke-width="0.50" stroke-linejoin="round">SALADILLO</text>
<text transform="translate(336.81 495.34) scale(1.4121 1)" font-size="9.65" font-weight="normal" fill="#e4e4e4" stroke="#e4e4e4" stroke-width="0.25" stroke-linejoin="round">Municipalidad de</text>
<text transform="translate(337.46 511.01) scale(1.2000 1)" font-size="14.27" letter-spacing="0.872" font-weight="normal" fill="#e4e4e4" stroke="#e4e4e4" stroke-width="0.50" stroke-linejoin="round">SALADILLO</text>
<text transform="translate(632.11 495.34) scale(1.4121 1)" font-size="9.65" font-weight="normal" fill="#e4e4e4" stroke="#e4e4e4" stroke-width="0.25" stroke-linejoin="round">Municipalidad de</text>
<text transform="translate(632.76 511.01) scale(1.2000 1)" font-size="14.27" letter-spacing="0.872" font-weight="normal" fill="#e4e4e4" stroke="#e4e4e4" stroke-width="0.50" stroke-linejoin="round">SALADILLO</text>
<text transform="translate(922.21 495.34) scale(1.4121 1)" font-size="9.65" font-weight="normal" fill="#e4e4e4" stroke="#e4e4e4" stroke-width="0.25" stroke-linejoin="round">Municipalidad de</text>
<text transform="translate(922.86 511.01) scale(1.2000 1)" font-size="14.27" letter-spacing="0.872" font-weight="normal" fill="#e4e4e4" stroke="#e4e4e4" stroke-width="0.50" stroke-linejoin="round">SALADILLO</text>
<text transform="translate(166.62 516.01) scale(1.1805 1)" font-size="21.26" font-weight="bold" fill="#e4e4e4" stroke="#e4e4e4" stroke-width="0.68" stroke-linejoin="round">Quedate</text>
<text transform="translate(174.16 537.91) scale(1.1409 1)" font-size="20.84" font-weight="bold" fill="#e4e4e4" stroke="#e4e4e4" stroke-width="0.70" stroke-linejoin="round">enCasa</text>
<text transform="translate(462.22 516.01) scale(1.1805 1)" font-size="21.26" font-weight="bold" fill="#e4e4e4" stroke="#e4e4e4" stroke-width="0.68" stroke-linejoin="round">Quedate</text>
<text transform="translate(469.76 537.91) scale(1.1409 1)" font-size="20.84" font-weight="bold" fill="#e4e4e4" stroke="#e4e4e4" stroke-width="0.70" stroke-linejoin="round">enCasa</text>
<text transform="translate(752.62 516.01) scale(1.1805 1)" font-size="21.26" font-weight="bold" fill="#e4e4e4" stroke="#e4e4e4" stroke-width="0.68" stroke-linejoin="round">Quedate</text>
<text transform="translate(760.16 537.91) scale(1.1409 1)" font-size="20.84" font-weight="bold" fill="#e4e4e4" stroke="#e4e4e4" stroke-width="0.70" stroke-linejoin="round">enCasa</text>
<text transform="translate(45.81 577.14) scale(1.4121 1)" font-size="9.65" font-weight="normal" fill="#e4e4e4" stroke="#e4e4e4" stroke-width="0.25" stroke-linejoin="round">Municipalidad de</text>
<text transform="translate(46.46 592.81) scale(1.2000 1)" font-size="14.27" letter-spacing="0.872" font-weight="normal" fill="#e4e4e4" stroke="#e4e4e4" stroke-width="0.50" stroke-linejoin="round">SALADILLO</text>
<text transform="translate(336.81 577.14) scale(1.4121 1)" font-size="9.65" font-weight="normal" fill="#e4e4e4" stroke="#e4e4e4" stroke-width="0.25" stroke-linejoin="round">Municipalidad de</text>
<text transform="translate(337.46 592.81) scale(1.2000 1)" font-size="14.27" letter-spacing="0.872" font-weight="normal" fill="#e4e4e4" stroke="#e4e4e4" stroke-width="0.50" stroke-linejoin="round">SALADILLO</text>
<text transform="translate(632.11 577.14) scale(1.4121 1)" font-size="9.65" font-weight="normal" fill="#e4e4e4" stroke="#e4e4e4" stroke-width="0.25" stroke-linejoin="round">Municipalidad de</text>
<text transform="translate(632.76 592.81) scale(1.2000 1)" font-size="14.27" letter-spacing="0.872" font-weight="normal" fill="#e4e4e4" stroke="#e4e4e4" stroke-width="0.50" stroke-linejoin="round">SALADILLO</text>
<text transform="translate(922.21 577.14) scale(1.4121 1)" font-size="9.65" font-weight="normal" fill="#e4e4e4" stroke="#e4e4e4" stroke-width="0.25" stroke-linejoin="round">Municipalidad de</text>
<text transform="translate(922.86 592.81) scale(1.2000 1)" font-size="14.27" letter-spacing="0.872" font-weight="normal" fill="#e4e4e4" stroke="#e4e4e4" stroke-width="0.50" stroke-linejoin="round">SALADILLO</text>
<text transform="translate(166.62 597.81) scale(1.1805 1)" font-size="21.26" font-weight="bold" fill="#e4e4e4" stroke="#e4e4e4" stroke-width="0.68" stroke-linejoin="round">Quedate</text>
<text transform="translate(174.16 619.71) scale(1.1409 1)" font-size="20.84" font-weight="bold" fill="#e4e4e4" stroke="#e4e4e4" stroke-width="0.70" stroke-linejoin="round">enCasa</text>
<text transform="translate(462.22 597.81) scale(1.1805 1)" font-size="21.26" font-weight="bold" fill="#e4e4e4" stroke="#e4e4e4" stroke-width="0.68" stroke-linejoin="round">Quedate</text>
<text transform="translate(469.76 619.71) scale(1.1409 1)" font-size="20.84" font-weight="bold" fill="#e4e4e4" stroke="#e4e4e4" stroke-width="0.70" stroke-linejoin="round">enCasa</text>
<text transform="translate(752.62 597.81) scale(1.1805 1)" font-size="21.26" font-weight="bold" fill="#e4e4e4" stroke="#e4e4e4" stroke-width="0.68" stroke-linejoin="round">Quedate</text>
<text transform="translate(760.16 619.71) scale(1.1409 1)" font-size="20.84" font-weight="bold" fill="#e4e4e4" stroke="#e4e4e4" stroke-width="0.70" stroke-linejoin="round">enCasa</text>
<text transform="translate(45.81 658.94) scale(1.4121 1)" font-size="9.65" font-weight="normal" fill="#e4e4e4" stroke="#e4e4e4" stroke-width="0.25" stroke-linejoin="round">Municipalidad de</text>
<text transform="translate(46.46 674.61) scale(1.2000 1)" font-size="14.27" letter-spacing="0.872" font-weight="normal" fill="#e4e4e4" stroke="#e4e4e4" stroke-width="0.50" stroke-linejoin="round">SALADILLO</text>
<text transform="translate(336.81 658.94) scale(1.4121 1)" font-size="9.65" font-weight="normal" fill="#e4e4e4" stroke="#e4e4e4" stroke-width="0.25" stroke-linejoin="round">Municipalidad de</text>
<text transform="translate(337.46 674.61) scale(1.2000 1)" font-size="14.27" letter-spacing="0.872" font-weight="normal" fill="#e4e4e4" stroke="#e4e4e4" stroke-width="0.50" stroke-linejoin="round">SALADILLO</text>
<text transform="translate(632.11 658.94) scale(1.4121 1)" font-size="9.65" font-weight="normal" fill="#e4e4e4" stroke="#e4e4e4" stroke-width="0.25" stroke-linejoin="round">Municipalidad de</text>
<text transform="translate(632.76 674.61) scale(1.2000 1)" font-size="14.27" letter-spacing="0.872" font-weight="normal" fill="#e4e4e4" stroke="#e4e4e4" stroke-width="0.50" stroke-linejoin="round">SALADILLO</text>
<text transform="translate(922.21 658.94) scale(1.4121 1)" font-size="9.65" font-weight="normal" fill="#e4e4e4" stroke="#e4e4e4" stroke-width="0.25" stroke-linejoin="round">Municipalidad de</text>
<text transform="translate(922.86 674.61) scale(1.2000 1)" font-size="14.27" letter-spacing="0.872" font-weight="normal" fill="#e4e4e4" stroke="#e4e4e4" stroke-width="0.50" stroke-linejoin="round">SALADILLO</text>
<text transform="translate(166.62 679.61) scale(1.1805 1)" font-size="21.26" font-weight="bold" fill="#e4e4e4" stroke="#e4e4e4" stroke-width="0.68" stroke-linejoin="round">Quedate</text>
<text transform="translate(174.16 701.51) scale(1.1409 1)" font-size="20.84" font-weight="bold" fill="#e4e4e4" stroke="#e4e4e4" stroke-width="0.70" stroke-linejoin="round">enCasa</text>
<text transform="translate(462.22 679.61) scale(1.1805 1)" font-size="21.26" font-weight="bold" fill="#e4e4e4" stroke="#e4e4e4" stroke-width="0.68" stroke-linejoin="round">Quedate</text>
<text transform="translate(469.76 701.51) scale(1.1409 1)" font-size="20.84" font-weight="bold" fill="#e4e4e4" stroke="#e4e4e4" stroke-width="0.70" stroke-linejoin="round">enCasa</text>
<text transform="translate(752.62 679.61) scale(1.1805 1)" font-size="21.26" font-weight="bold" fill="#e4e4e4" stroke="#e4e4e4" stroke-width="0.68" stroke-linejoin="round">Quedate</text>
<text transform="translate(760.16 701.51) scale(1.1409 1)" font-size="20.84" font-weight="bold" fill="#e4e4e4" stroke="#e4e4e4" stroke-width="0.70" stroke-linejoin="round">enCasa</text>
<text transform="translate(45.81 740.74) scale(1.4121 1)" font-size="9.65" font-weight="normal" fill="#e4e4e4" stroke="#e4e4e4" stroke-width="0.25" stroke-linejoin="round">Municipalidad de</text>
<text transform="translate(46.46 756.41) scale(1.2000 1)" font-size="14.27" letter-spacing="0.872" font-weight="normal" fill="#e4e4e4" stroke="#e4e4e4" stroke-width="0.50" stroke-linejoin="round">SALADILLO</text>
<text transform="translate(336.81 740.74) scale(1.4121 1)" font-size="9.65" font-weight="normal" fill="#e4e4e4" stroke="#e4e4e4" stroke-width="0.25" stroke-linejoin="round">Municipalidad de</text>
<text transform="translate(337.46 756.41) scale(1.2000 1)" font-size="14.27" letter-spacing="0.872" font-weight="normal" fill="#e4e4e4" stroke="#e4e4e4" stroke-width="0.50" stroke-linejoin="round">SALADILLO</text>
<text transform="translate(632.11 740.74) scale(1.4121 1)" font-size="9.65" font-weight="normal" fill="#e4e4e4" stroke="#e4e4e4" stroke-width="0.25" stroke-linejoin="round">Municipalidad de</text>
<text transform="translate(632.76 756.41) scale(1.2000 1)" font-size="14.27" letter-spacing="0.872" font-weight="normal" fill="#e4e4e4" stroke="#e4e4e4" stroke-width="0.50" stroke-linejoin="round">SALADILLO</text>
<text transform="translate(922.21 740.74) scale(1.4121 1)" font-size="9.65" font-weight="normal" fill="#e4e4e4" stroke="#e4e4e4" stroke-width="0.25" stroke-linejoin="round">Municipalidad de</text>
<text transform="translate(922.86 756.41) scale(1.2000 1)" font-size="14.27" letter-spacing="0.872" font-weight="normal" fill="#e4e4e4" stroke="#e4e4e4" stroke-width="0.50" stroke-linejoin="round">SALADILLO</text>
<text transform="translate(166.62 761.41) scale(1.1805 1)" font-size="21.26" font-weight="bold" fill="#e4e4e4" stroke="#e4e4e4" stroke-width="0.68" stroke-linejoin="round">Quedate</text>
<text transform="translate(174.16 783.31) scale(1.1409 1)" font-size="20.84" font-weight="bold" fill="#e4e4e4" stroke="#e4e4e4" stroke-width="0.70" stroke-linejoin="round">enCasa</text>
<text transform="translate(462.22 761.41) scale(1.1805 1)" font-size="21.26" font-weight="bold" fill="#e4e4e4" stroke="#e4e4e4" stroke-width="0.68" stroke-linejoin="round">Quedate</text>
<text transform="translate(469.76 783.31) scale(1.1409 1)" font-size="20.84" font-weight="bold" fill="#e4e4e4" stroke="#e4e4e4" stroke-width="0.70" stroke-linejoin="round">enCasa</text>
<text transform="translate(752.62 761.41) scale(1.1805 1)" font-size="21.26" font-weight="bold" fill="#e4e4e4" stroke="#e4e4e4" stroke-width="0.68" stroke-linejoin="round">Quedate</text>
<text transform="translate(760.16 783.31) scale(1.1409 1)" font-size="20.84" font-weight="bold" fill="#e4e4e4" stroke="#e4e4e4" stroke-width="0.70" stroke-linejoin="round">enCasa</text>
<text transform="translate(45.81 822.54) scale(1.4121 1)" font-size="9.65" font-weight="normal" fill="#e4e4e4" stroke="#e4e4e4" stroke-width="0.25" stroke-linejoin="round">Municipalidad de</text>
<text transform="translate(46.46 838.21) scale(1.2000 1)" font-size="14.27" letter-spacing="0.872" font-weight="normal" fill="#e4e4e4" stroke="#e4e4e4" stroke-width="0.50" stroke-linejoin="round">SALADILLO</text>
<text transform="translate(336.81 822.54) scale(1.4121 1)" font-size="9.65" font-weight="normal" fill="#e4e4e4" stroke="#e4e4e4" stroke-width="0.25" stroke-linejoin="round">Municipalidad de</text>
<text transform="translate(337.46 838.21) scale(1.2000 1)" font-size="14.27" letter-spacing="0.872" font-weight="normal" fill="#e4e4e4" stroke="#e4e4e4" stroke-width="0.50" stroke-linejoin="round">SALADILLO</text>
<text transform="translate(632.11 822.54) scale(1.4121 1)" font-size="9.65" font-weight="normal" fill="#e4e4e4" stroke="#e4e4e4" stroke-width="0.25" stroke-linejoin="round">Municipalidad de</text>
<text transform="translate(632.76 838.21) scale(1.2000 1)" font-size="14.27" letter-spacing="0.872" font-weight="normal" fill="#e4e4e4" stroke="#e4e4e4" stroke-width="0.50" stroke-linejoin="round">SALADILLO</text>
<text transform="translate(922.21 822.54) scale(1.4121 1)" font-size="9.65" font-weight="normal" fill="#e4e4e4" stroke="#e4e4e4" stroke-width="0.25" stroke-linejoin="round">Municipalidad de</text>
<text transform="translate(922.86 838.21) scale(1.2000 1)" font-size="14.27" letter-spacing="0.872" font-weight="normal" fill="#e4e4e4" stroke="#e4e4e4" stroke-width="0.50" stroke-linejoin="round">SALADILLO</text>
<text transform="translate(166.62 843.21) scale(1.1805 1)" font-size="21.26" font-weight="bold" fill="#e4e4e4" stroke="#e4e4e4" stroke-width="0.68" stroke-linejoin="round">Quedate</text>
<text transform="translate(174.16 865.11) scale(1.1409 1)" font-size="20.84" font-weight="bold" fill="#e4e4e4" stroke="#e4e4e4" stroke-width="0.70" stroke-linejoin="round">enCasa</text>
<text transform="translate(462.22 843.21) scale(1.1805 1)" font-size="21.26" font-weight="bold" fill="#e4e4e4" stroke="#e4e4e4" stroke-width="0.68" stroke-linejoin="round">Quedate</text>
<text transform="translate(469.76 865.11) scale(1.1409 1)" font-size="20.84" font-weight="bold" fill="#e4e4e4" stroke="#e4e4e4" stroke-width="0.70" stroke-linejoin="round">enCasa</text>
<text transform="translate(752.62 843.21) scale(1.1805 1)" font-size="21.26" font-weight="bold" fill="#e4e4e4" stroke="#e4e4e4" stroke-width="0.68" stroke-linejoin="round">Quedate</text>
<text transform="translate(760.16 865.11) scale(1.1409 1)" font-size="20.84" font-weight="bold" fill="#e4e4e4" stroke="#e4e4e4" stroke-width="0.70" stroke-linejoin="round">enCasa</text>
<text transform="translate(45.81 904.34) scale(1.4121 1)" font-size="9.65" font-weight="normal" fill="#e4e4e4" stroke="#e4e4e4" stroke-width="0.25" stroke-linejoin="round">Municipalidad de</text>
<text transform="translate(46.46 920.01) scale(1.2000 1)" font-size="14.27" letter-spacing="0.872" font-weight="normal" fill="#e4e4e4" stroke="#e4e4e4" stroke-width="0.50" stroke-linejoin="round">SALADILLO</text>
<text transform="translate(336.81 904.34) scale(1.4121 1)" font-size="9.65" font-weight="normal" fill="#e4e4e4" stroke="#e4e4e4" stroke-width="0.25" stroke-linejoin="round">Municipalidad de</text>
<text transform="translate(337.46 920.01) scale(1.2000 1)" font-size="14.27" letter-spacing="0.872" font-weight="normal" fill="#e4e4e4" stroke="#e4e4e4" stroke-width="0.50" stroke-linejoin="round">SALADILLO</text>
<text transform="translate(632.11 904.34) scale(1.4121 1)" font-size="9.65" font-weight="normal" fill="#e4e4e4" stroke="#e4e4e4" stroke-width="0.25" stroke-linejoin="round">Municipalidad de</text>
<text transform="translate(632.76 920.01) scale(1.2000 1)" font-size="14.27" letter-spacing="0.872" font-weight="normal" fill="#e4e4e4" stroke="#e4e4e4" stroke-width="0.50" stroke-linejoin="round">SALADILLO</text>
<text transform="translate(922.21 904.34) scale(1.4121 1)" font-size="9.65" font-weight="normal" fill="#e4e4e4" stroke="#e4e4e4" stroke-width="0.25" stroke-linejoin="round">Municipalidad de</text>
<text transform="translate(922.86 920.01) scale(1.2000 1)" font-size="14.27" letter-spacing="0.872" font-weight="normal" fill="#e4e4e4" stroke="#e4e4e4" stroke-width="0.50" stroke-linejoin="round">SALADILLO</text>
<text transform="translate(166.62 925.01) scale(1.1805 1)" font-size="21.26" font-weight="bold" fill="#e4e4e4" stroke="#e4e4e4" stroke-width="0.68" stroke-linejoin="round">Quedate</text>
<text transform="translate(174.16 946.91) scale(1.1409 1)" font-size="20.84" font-weight="bold" fill="#e4e4e4" stroke="#e4e4e4" stroke-width="0.70" stroke-linejoin="round">enCasa</text>
<text transform="translate(462.22 925.01) scale(1.1805 1)" font-size="21.26" font-weight="bold" fill="#e4e4e4" stroke="#e4e4e4" stroke-width="0.68" stroke-linejoin="round">Quedate</text>
<text transform="translate(469.76 946.91) scale(1.1409 1)" font-size="20.84" font-weight="bold" fill="#e4e4e4" stroke="#e4e4e4" stroke-width="0.70" stroke-linejoin="round">enCasa</text>
<text transform="translate(752.62 925.01) scale(1.1805 1)" font-size="21.26" font-weight="bold" fill="#e4e4e4" stroke="#e4e4e4" stroke-width="0.68" stroke-linejoin="round">Quedate</text>
<text transform="translate(760.16 946.91) scale(1.1409 1)" font-size="20.84" font-weight="bold" fill="#e4e4e4" stroke="#e4e4e4" stroke-width="0.70" stroke-linejoin="round">enCasa</text>
<rect x="0" y="0" width="1024" height="134.5" fill="#52a33a"/>
<rect x="677.4" y="24" width="3.6" height="87.8" fill="#fff"/>
<rect x="83" y="151" width="227" height="95.5" fill="#007b87"/>
<rect x="323" y="151" width="395" height="95.5" fill="#007b87"/>
<rect x="731" y="151" width="207" height="95.5" fill="#007b87"/>
<rect x="83" y="254" width="227" height="149.5" fill="#8c8c8c"/>
<rect x="323" y="254" width="155.5" height="149.5" fill="#8c8c8c"/>
<rect x="482" y="254" width="236" height="74" fill="#8c8c8c"/>
<rect x="482" y="332" width="236" height="71.5" fill="#8c8c8c"/>
<rect x="482" y="328" width="236" height="4" fill="#fff"/>
<rect x="731" y="254" width="207" height="149.5" fill="#8c8c8c"/>
<path d="M223.15,331.30 L223.06,334.52 L222.78,337.33 L222.32,339.96 L221.68,342.46 L220.87,344.83 L219.88,347.06 L218.73,349.16 L217.42,351.11 L215.95,352.90 L214.33,354.53 L212.58,355.99 L210.69,357.27 L208.68,358.37 L206.55,359.27 L204.30,359.98 L201.93,360.49 L199.40,360.80 L196.50,360.90 L193.60,360.80 L191.07,360.49 L188.70,359.98 L186.45,359.27 L184.32,358.37 L182.31,357.27 L180.42,355.99 L178.67,354.53 L177.05,352.90 L175.58,351.11 L174.27,349.16 L173.12,347.06 L172.13,344.83 L171.32,342.46 L170.68,339.96 L170.22,337.33 L169.94,334.52 L169.85,331.30 L169.94,328.08 L170.22,325.27 L170.68,322.64 L171.32,320.14 L172.13,317.77 L173.12,315.54 L174.27,313.44 L175.58,311.49 L177.05,309.70 L178.67,308.07 L180.42,306.61 L182.31,305.33 L184.32,304.23 L186.45,303.33 L188.70,302.62 L191.07,302.11 L193.60,301.80 L196.50,301.70 L199.40,301.80 L201.93,302.11 L204.30,302.62 L206.55,303.33 L208.68,304.23 L210.69,305.33 L212.58,306.61 L214.33,308.07 L215.95,309.70 L217.42,311.49 L218.73,313.44 L219.88,315.54 L220.87,317.77 L221.68,320.14 L222.32,322.64 L222.78,325.27 L223.06,328.08 Z M207.00,331.30 L206.96,329.85 L206.84,328.46 L206.65,327.11 L206.38,325.81 L206.04,324.55 L205.63,323.34 L205.14,322.20 L204.60,321.13 L203.99,320.14 L203.32,319.23 L202.60,318.42 L201.84,317.70 L201.03,317.08 L200.19,316.57 L199.31,316.17 L198.40,315.88 L197.47,315.71 L196.50,315.65 L195.53,315.71 L194.60,315.88 L193.69,316.17 L192.81,316.57 L191.97,317.08 L191.16,317.70 L190.40,318.42 L189.68,319.23 L189.01,320.14 L188.40,321.13 L187.86,322.20 L187.37,323.34 L186.96,324.55 L186.62,325.81 L186.35,327.11 L186.16,328.46 L186.04,329.85 L186.00,331.30 L186.04,332.75 L186.16,334.14 L186.35,335.49 L186.62,336.79 L186.96,338.05 L187.37,339.26 L187.86,340.40 L188.40,341.47 L189.01,342.46 L189.68,343.37 L190.40,344.18 L191.16,344.90 L191.97,345.52 L192.81,346.03 L193.69,346.43 L194.60,346.72 L195.53,346.89 L196.50,346.95 L197.47,346.89 L198.40,346.72 L199.31,346.43 L200.19,346.03 L201.03,345.52 L201.84,344.90 L202.60,344.18 L203.32,343.37 L203.99,342.46 L204.60,341.47 L205.14,340.40 L205.63,339.26 L206.04,338.05 L206.38,336.79 L206.65,335.49 L206.84,334.14 L206.96,332.75 Z" fill="#fff" fill-rule="evenodd"/>
<path d="M426.55,331.30 L426.46,334.52 L426.18,337.33 L425.72,339.96 L425.08,342.46 L424.27,344.83 L423.28,347.06 L422.13,349.16 L420.82,351.11 L419.35,352.90 L417.73,354.53 L415.98,355.99 L414.09,357.27 L412.08,358.37 L409.95,359.27 L407.70,359.98 L405.33,360.49 L402.80,360.80 L399.90,360.90 L397.00,360.80 L394.47,360.49 L392.10,359.98 L389.85,359.27 L387.72,358.37 L385.71,357.27 L383.82,355.99 L382.07,354.53 L380.45,352.90 L378.98,351.11 L377.67,349.16 L376.52,347.06 L375.53,344.83 L374.72,342.46 L374.08,339.96 L373.62,337.33 L373.34,334.52 L373.25,331.30 L373.34,328.08 L373.62,325.27 L374.08,322.64 L374.72,320.14 L375.53,317.77 L376.52,315.54 L377.67,313.44 L378.98,311.49 L380.45,309.70 L382.07,308.07 L383.82,306.61 L385.71,305.33 L387.72,304.23 L389.85,303.33 L392.10,302.62 L394.47,302.11 L397.00,301.80 L399.90,301.70 L402.80,301.80 L405.33,302.11 L407.70,302.62 L409.95,303.33 L412.08,304.23 L414.09,305.33 L415.98,306.61 L417.73,308.07 L419.35,309.70 L420.82,311.49 L422.13,313.44 L423.28,315.54 L424.27,317.77 L425.08,320.14 L425.72,322.64 L426.18,325.27 L426.46,328.08 Z M410.40,331.30 L410.36,329.85 L410.24,328.46 L410.05,327.11 L409.78,325.81 L409.44,324.55 L409.03,323.34 L408.54,322.20 L408.00,321.13 L407.39,320.14 L406.72,319.23 L406.00,318.42 L405.24,317.70 L404.43,317.08 L403.59,316.57 L402.71,316.17 L401.80,315.88 L400.87,315.71 L399.90,315.65 L398.93,315.71 L398.00,315.88 L397.09,316.17 L396.21,316.57 L395.37,317.08 L394.56,317.70 L393.80,318.42 L393.08,319.23 L392.41,320.14 L391.80,321.13 L391.26,322.20 L390.77,323.34 L390.36,324.55 L390.02,325.81 L389.75,327.11 L389.56,328.46 L389.44,329.85 L389.40,331.30 L389.44,332.75 L389.56,334.14 L389.75,335.49 L390.02,336.79 L390.36,338.05 L390.77,339.26 L391.26,340.40 L391.80,341.47 L392.41,342.46 L393.08,343.37 L393.80,344.18 L394.56,344.90 L395.37,345.52 L396.21,346.03 L397.09,346.43 L398.00,346.72 L398.93,346.89 L399.90,346.95 L400.87,346.89 L401.80,346.72 L402.71,346.43 L403.59,346.03 L404.43,345.52 L405.24,344.90 L406.00,344.18 L406.72,343.37 L407.39,342.46 L408.00,341.47 L408.54,340.40 L409.03,339.26 L409.44,338.05 L409.78,336.79 L410.05,335.49 L410.24,334.14 L410.36,332.75 Z" fill="#fff" fill-rule="evenodd"/>
<path d="M861.55,336.70 L861.46,339.92 L861.18,342.73 L860.72,345.36 L860.08,347.86 L859.27,350.23 L858.28,352.46 L857.13,354.56 L855.82,356.51 L854.35,358.30 L852.73,359.93 L850.98,361.39 L849.09,362.67 L847.08,363.77 L844.95,364.67 L842.70,365.38 L840.33,365.89 L837.80,366.20 L834.90,366.30 L832.00,366.20 L829.47,365.89 L827.10,365.38 L824.85,364.67 L822.72,363.77 L820.71,362.67 L818.82,361.39 L817.07,359.93 L815.45,358.30 L813.98,356.51 L812.67,354.56 L811.52,352.46 L810.53,350.23 L809.72,347.86 L809.08,345.36 L808.62,342.73 L808.34,339.92 L808.25,336.70 L808.34,333.48 L808.62,330.67 L809.08,328.04 L809.72,325.54 L810.53,323.17 L811.52,320.94 L812.67,318.84 L813.98,316.89 L815.45,315.10 L817.07,313.47 L818.82,312.01 L820.71,310.73 L822.72,309.63 L824.85,308.73 L827.10,308.02 L829.47,307.51 L832.00,307.20 L834.90,307.10 L837.80,307.20 L840.33,307.51 L842.70,308.02 L844.95,308.73 L847.08,309.63 L849.09,310.73 L850.98,312.01 L852.73,313.47 L854.35,315.10 L855.82,316.89 L857.13,318.84 L858.28,320.94 L859.27,323.17 L860.08,325.54 L860.72,328.04 L861.18,330.67 L861.46,333.48 Z M845.40,336.70 L845.36,335.25 L845.24,333.86 L845.05,332.51 L844.78,331.21 L844.44,329.95 L844.03,328.74 L843.54,327.60 L843.00,326.53 L842.39,325.54 L841.72,324.63 L841.00,323.82 L840.24,323.10 L839.43,322.48 L838.59,321.97 L837.71,321.57 L836.80,321.28 L835.87,321.11 L834.90,321.05 L833.93,321.11 L833.00,321.28 L832.09,321.57 L831.21,321.97 L830.37,322.48 L829.56,323.10 L828.80,323.82 L828.08,324.63 L827.41,325.54 L826.80,326.53 L826.26,327.60 L825.77,328.74 L825.36,329.95 L825.02,331.21 L824.75,332.51 L824.56,333.86 L824.44,335.25 L824.40,336.70 L824.44,338.15 L824.56,339.54 L824.75,340.89 L825.02,342.19 L825.36,343.45 L825.77,344.66 L826.26,345.80 L826.80,346.87 L827.41,347.86 L828.08,348.77 L828.80,349.58 L829.56,350.30 L830.37,350.92 L831.21,351.43 L832.09,351.83 L833.00,352.12 L833.93,352.29 L834.90,352.35 L835.87,352.29 L836.80,352.12 L837.71,351.83 L838.59,351.43 L839.43,350.92 L840.24,350.30 L841.00,349.58 L841.72,348.77 L842.39,347.86 L843.00,346.87 L843.54,345.80 L844.03,344.66 L844.44,343.45 L844.78,342.19 L845.05,340.89 L845.24,339.54 L845.36,338.15 Z" fill="#fff" fill-rule="evenodd"/>
<path d="M534.00,292.30 L533.96,293.75 L533.83,295.02 L533.62,296.21 L533.33,297.33 L532.96,298.40 L532.50,299.41 L531.98,300.35 L531.37,301.23 L530.70,302.04 L529.96,302.78 L529.16,303.44 L528.30,304.01 L527.38,304.51 L526.40,304.92 L525.37,305.24 L524.28,305.47 L523.13,305.60 L521.80,305.65 L520.47,305.60 L519.32,305.47 L518.23,305.24 L517.20,304.92 L516.22,304.51 L515.30,304.01 L514.44,303.44 L513.64,302.78 L512.90,302.04 L512.23,301.23 L511.62,300.35 L511.10,299.41 L510.64,298.40 L510.27,297.33 L509.98,296.21 L509.77,295.02 L509.64,293.75 L509.60,292.30 L509.64,290.85 L509.77,289.58 L509.98,288.39 L510.27,287.27 L510.64,286.20 L511.10,285.19 L511.62,284.25 L512.23,283.37 L512.90,282.56 L513.64,281.82 L514.44,281.16 L515.30,280.59 L516.22,280.09 L517.20,279.68 L518.23,279.36 L519.32,279.13 L520.47,279.00 L521.80,278.95 L523.13,279.00 L524.28,279.13 L525.37,279.36 L526.40,279.68 L527.38,280.09 L528.30,280.59 L529.16,281.16 L529.96,281.82 L530.70,282.56 L531.37,283.37 L531.98,284.25 L532.50,285.19 L532.96,286.20 L533.33,287.27 L533.62,288.39 L533.83,289.58 L533.96,290.85 Z M526.60,292.30 L526.58,291.65 L526.53,291.03 L526.44,290.43 L526.32,289.84 L526.16,289.28 L525.97,288.74 L525.75,288.23 L525.50,287.75 L525.22,287.31 L524.92,286.90 L524.59,286.54 L524.24,286.22 L523.87,285.94 L523.49,285.71 L523.08,285.53 L522.67,285.40 L522.24,285.33 L521.80,285.30 L521.36,285.33 L520.93,285.40 L520.52,285.53 L520.11,285.71 L519.73,285.94 L519.36,286.22 L519.01,286.54 L518.68,286.90 L518.38,287.31 L518.10,287.75 L517.85,288.23 L517.63,288.74 L517.44,289.28 L517.28,289.84 L517.16,290.43 L517.07,291.03 L517.02,291.65 L517.00,292.30 L517.02,292.95 L517.07,293.57 L517.16,294.17 L517.28,294.76 L517.44,295.32 L517.63,295.86 L517.85,296.37 L518.10,296.85 L518.38,297.29 L518.68,297.70 L519.01,298.06 L519.36,298.38 L519.73,298.66 L520.11,298.89 L520.52,299.07 L520.93,299.20 L521.36,299.27 L521.80,299.30 L522.24,299.27 L522.67,299.20 L523.08,299.07 L523.49,298.89 L523.87,298.66 L524.24,298.38 L524.59,298.06 L524.92,297.70 L525.22,297.29 L525.50,296.85 L525.75,296.37 L525.97,295.86 L526.16,295.32 L526.32,294.76 L526.44,294.17 L526.53,293.57 L526.58,292.95 Z" fill="#fff" fill-rule="evenodd"/>
<path d="M534.00,368.70 L533.96,370.22 L533.83,371.55 L533.62,372.80 L533.33,373.98 L532.96,375.10 L532.50,376.16 L531.98,377.15 L531.37,378.07 L530.70,378.92 L529.96,379.69 L529.16,380.38 L528.30,380.98 L527.38,381.50 L526.40,381.93 L525.37,382.27 L524.28,382.51 L523.13,382.65 L521.80,382.70 L520.47,382.65 L519.32,382.51 L518.23,382.27 L517.20,381.93 L516.22,381.50 L515.30,380.98 L514.44,380.38 L513.64,379.69 L512.90,378.92 L512.23,378.07 L511.62,377.15 L511.10,376.16 L510.64,375.10 L510.27,373.98 L509.98,372.80 L509.77,371.55 L509.64,370.22 L509.60,368.70 L509.64,367.18 L509.77,365.85 L509.98,364.60 L510.27,363.42 L510.64,362.30 L511.10,361.24 L511.62,360.25 L512.23,359.33 L512.90,358.48 L513.64,357.71 L514.44,357.02 L515.30,356.42 L516.22,355.90 L517.20,355.47 L518.23,355.13 L519.32,354.89 L520.47,354.75 L521.80,354.70 L523.13,354.75 L524.28,354.89 L525.37,355.13 L526.40,355.47 L527.38,355.90 L528.30,356.42 L529.16,357.02 L529.96,357.71 L530.70,358.48 L531.37,359.33 L531.98,360.25 L532.50,361.24 L532.96,362.30 L533.33,363.42 L533.62,364.60 L533.83,365.85 L533.96,367.18 Z M526.60,368.70 L526.58,368.02 L526.53,367.37 L526.44,366.73 L526.32,366.12 L526.16,365.53 L525.97,364.96 L525.75,364.43 L525.50,363.92 L525.22,363.46 L524.92,363.03 L524.59,362.65 L524.24,362.31 L523.87,362.02 L523.49,361.78 L523.08,361.59 L522.67,361.46 L522.24,361.38 L521.80,361.35 L521.36,361.38 L520.93,361.46 L520.52,361.59 L520.11,361.78 L519.73,362.02 L519.36,362.31 L519.01,362.65 L518.68,363.03 L518.38,363.46 L518.10,363.92 L517.85,364.43 L517.63,364.96 L517.44,365.53 L517.28,366.12 L517.16,366.73 L517.07,367.37 L517.02,368.02 L517.00,368.70 L517.02,369.38 L517.07,370.03 L517.16,370.67 L517.28,371.28 L517.44,371.87 L517.63,372.44 L517.85,372.97 L518.10,373.48 L518.38,373.94 L518.68,374.37 L519.01,374.75 L519.36,375.09 L519.73,375.38 L520.11,375.62 L520.52,375.81 L520.93,375.94 L521.36,376.02 L521.80,376.05 L522.24,376.02 L522.67,375.94 L523.08,375.81 L523.49,375.62 L523.87,375.38 L524.24,375.09 L524.59,374.75 L524.92,374.37 L525.22,373.94 L525.50,373.48 L525.75,372.97 L525.97,372.44 L526.16,371.87 L526.32,371.28 L526.44,370.67 L526.53,370.03 L526.58,369.38 Z" fill="#fff" fill-rule="evenodd"/>
<rect x="350" y="427.5" width="6" height="345.5" fill="#52a33a"/>
<rect x="670.3" y="427" width="6.2" height="346" fill="#52a33a"/>
<rect x="75.6" y="595.8" width="869.4" height="6" fill="#52a33a"/>
<rect x="59.8" y="811" width="906.4" height="119.5" fill="#fff" stroke="#14707a" stroke-width="3.7"/>
<rect x="382" y="805" width="262" height="10" fill="#fff"/>
<rect x="0" y="939.3" width="1024" height="84.7" fill="#007b88"/>
<polygon points="101.75,957.00 120.20,975.60 111.53,984.91 120.20,994.21 101.75,1012.70 83.30,994.21 91.97,984.91 83.30,975.60" fill="#fff" stroke="#fff" stroke-width="1" stroke-linejoin="round"/><polygon points="111.23,986.35 103.34,992.98 117.25,992.98" fill="#007b88"/>
<text transform="translate(50.79 56.83) scale(1.1245 1)" font-size="34.84" font-weight="bold" fill="#fff" stroke="#fff" stroke-width="1.24" stroke-linejoin="round">SITUACIÓN EPIDEMIOLÓGICA</text>
<text transform="translate(50.16 102.12) scale(1.1169 1)" font-size="35.39" font-weight="bold" fill="#fff" stroke="#fff" stroke-width="1.25" stroke-linejoin="round">CORONAVIRUS</text>
<text transform="translate(355.64 102.76) scale(1.0888 1)" font-size="34.50" font-weight="normal" fill="#fff" stroke="#52a33a" stroke-width="0.32">(COVID-19)</text>
<text transform="translate(763.26 60.52) scale(1.1102 1)" font-size="35.12" font-weight="bold" fill="#fff" stroke="#fff" stroke-width="1.26" stroke-linejoin="round">FECHA</text>
<text transform="translate(149.38 182.57) scale(1.1234 1)" font-size="23.49" font-weight="bold" fill="#fff" stroke="#fff" stroke-width="0.71" stroke-linejoin="round">CASOS</text>
<text transform="translate(93.24 208.76) scale(1.1018 1)" font-size="24.04" font-weight="bold" fill="#fff" stroke="#fff" stroke-width="0.73" stroke-linejoin="round">RECUPERADOS</text>
<text transform="translate(166.68 234.56) scale(1.1463 1)" font-size="24.04" font-weight="bold" fill="#fff" stroke="#fff" stroke-width="0.70" stroke-linejoin="round">HOY</text>
<text transform="translate(411.55 192.55) scale(1.0769 1)" font-size="25.15" font-weight="bold" fill="#fff" stroke="#fff" stroke-width="0.74" stroke-linejoin="round">CASOS ACTIVOS</text>
<text transform="translate(494.71 224.76) scale(1.1096 1)" font-size="24.32" font-weight="bold" fill="#fff" stroke="#fff" stroke-width="0.72" stroke-linejoin="round">HOY</text>
<text transform="translate(788.07 182.57) scale(1.1258 1)" font-size="23.49" font-weight="bold" fill="#fff" stroke="#fff" stroke-width="0.71" stroke-linejoin="round">CASOS</text>
<text transform="translate(754.26 208.76) scale(1.1431 1)" font-size="24.32" font-weight="bold" fill="#fff" stroke="#fff" stroke-width="0.70" stroke-linejoin="round">NEGATIVOS</text>
<text transform="translate(804.71 234.76) scale(1.1096 1)" font-size="24.32" font-weight="bold" fill="#fff" stroke="#fff" stroke-width="0.72" stroke-linejoin="round">HOY</text>
<text transform="translate(561.44 279.45) scale(1.1194 1)" font-size="18.03" font-weight="bold" fill="#fff" stroke="#fff" stroke-width="0.54" stroke-linejoin="round">POSITIVOS</text>
<text transform="translate(561.48 299.04) scale(1.0553 1)" font-size="18.45" font-weight="bold" fill="#fff" stroke="#fff" stroke-width="0.57" stroke-linejoin="round">POR</text>
<text transform="translate(561.43 318.43) scale(1.0579 1)" font-size="19.14" font-weight="bold" fill="#fff" stroke="#fff" stroke-width="0.57" stroke-linejoin="round">HISOPADO</text>
<text transform="translate(561.44 356.23) scale(1.0543 1)" font-size="19.14" font-weight="bold" fill="#fff" stroke="#fff" stroke-width="0.57" stroke-linejoin="round">POSITIVOS</text>
<text transform="translate(561.47 375.24) scale(1.0620 1)" font-size="18.59" font-weight="bold" fill="#fff" stroke="#fff" stroke-width="0.56" stroke-linejoin="round">POR CRITERIO</text>
<text transform="translate(562.08 394.13) scale(1.0467 1)" font-size="19.01" font-weight="bold" fill="#fff" stroke="#fff" stroke-width="0.57" stroke-linejoin="round">CLÍNICO</text>
<text transform="translate(70.47 443.14) scale(1.0663 1)" font-size="18.89" font-weight="bold" fill="#0c7984" stroke="#0c7984" stroke-width="0.75" stroke-linejoin="round">CASOS RECUPERADOS</text>
<text transform="translate(141.20 466.24) scale(1.0813 1)" font-size="19.03" font-weight="bold" fill="#0c7984" stroke="#0c7984" stroke-width="0.74" stroke-linejoin="round">TOTALES</text>
<text transform="translate(427.16 445.15) scale(1.1069 1)" font-size="18.62" font-weight="bold" fill="#0c7984" stroke="#0c7984" stroke-width="0.72" stroke-linejoin="round">CASOS ACTIVOS</text>
<text transform="translate(465.20 467.95) scale(1.1091 1)" font-size="18.62" font-weight="bold" fill="#0c7984" stroke="#0c7984" stroke-width="0.72" stroke-linejoin="round">TOTALES</text>
<text transform="translate(800.07 443.16) scale(1.1213 1)" font-size="17.92" font-weight="bold" fill="#0c7984" stroke="#0c7984" stroke-width="0.71" stroke-linejoin="round">CASOS</text>
<text transform="translate(757.99 466.24) scale(1.0531 1)" font-size="19.03" font-weight="bold" fill="#0c7984" stroke="#0c7984" stroke-width="0.76" stroke-linejoin="round">SOSPECHOSOS</text>
<text transform="translate(75.60 645.25) scale(1.1186 1)" font-size="18.62" font-weight="bold" fill="#0c7984" stroke="#0c7984" stroke-width="0.72" stroke-linejoin="round">EN AISLAMIENTO POR</text>
<text transform="translate(72.96 668.75) scale(1.0975 1)" font-size="18.75" font-weight="bold" fill="#0c7984" stroke="#0c7984" stroke-width="0.73" stroke-linejoin="round">CONTACTO ESTRECHO</text>
<text transform="translate(394.96 645.75) scale(1.0925 1)" font-size="18.75" font-weight="bold" fill="#0c7984" stroke="#0c7984" stroke-width="0.73" stroke-linejoin="round">CASOS DESCARTADOS</text>
<text transform="translate(465.40 668.74) scale(1.0860 1)" font-size="19.03" font-weight="bold" fill="#0c7984" stroke="#0c7984" stroke-width="0.74" stroke-linejoin="round">TOTALES</text>
<text transform="translate(767.40 647.74) scale(1.0976 1)" font-size="18.89" font-weight="bold" fill="#0c7984" stroke="#0c7984" stroke-width="0.73" stroke-linejoin="round">FALLECIDOS</text>
<text transform="translate(393.05 819.32) scale(1.0643 1)" font-size="27.27" font-weight="bold" fill="#14707a" stroke="#14707a" stroke-width="0.94" stroke-linejoin="round">ANTE SÍNTOMAS</text>
<text transform="translate(399.85 850.04) scale(1.0782 1)" font-size="23.01" font-weight="bold" fill="#52a33a" stroke="#52a33a" stroke-width="0.74" stroke-linejoin="round">1. Quedate en casa</text>
<text transform="translate(86.89 883.04) scale(1.0865 1)" font-size="23.72" font-weight="bold" fill="#52a33a" stroke="#52a33a" stroke-width="0.74" stroke-linejoin="round">2. Llamá por teléfono a tu médico de confianza o al CAPS de tu barrio</text>
<text transform="translate(193.20 914.84) scale(1.0678 1)" font-size="23.86" font-weight="bold" fill="#52a33a" stroke="#52a33a" stroke-width="0.75" stroke-linejoin="round">3. El profesional de salud te indicará como continuar</text>
<text transform="translate(125.74 979.60) scale(1.1945 1)" font-size="14.07" font-weight="normal" fill="#fff" stroke="#fff" stroke-width="0.75" stroke-linejoin="round">Municipalidad de</text>
<text transform="translate(126.39 999.79) scale(1.3500 1)" font-size="16.83" letter-spacing="0.213" font-weight="normal" fill="#fff" stroke="#fff" stroke-width="0.74" stroke-linejoin="round">SALADILLO</text>
<text transform="translate(315.44 992.03) scale(1.0443 1)" font-size="21.99" font-weight="bold" fill="#fff" stroke="#fff" stroke-width="0.57" stroke-linejoin="round">#EnSaladilloNosCuidamosEntreTodos</text>
<path transform="translate(85.4 501.8) scale(1 1)" d="M0,4.5 L16,0 L29.5,0 L29.5,60.7 L13.2,60.7 L13.2,16 L2.5,17.5 Z" fill="#0c7984" fill-rule="nonzero"/>
<path transform="translate(124.9 501.8) scale(1 1)" d="M0,0 L46.4,0 L46.4,14.2 L19.6,60.6 L2,60.6 L27.8,14.2 L0,14.2 Z" fill="#0c7984" fill-rule="nonzero"/>
<path transform="translate(0 0) scale(1 1)" d="M177.7,514.4 C182,505.5 191,501.2 201.5,501.2 C214.5,501.2 224.6,509.8 224.6,522.5 C224.6,531 220,537 211,542.5 L200.8,549.6 L224.9,549.6 L224.9,563.1 L177,563.1 L177,550.7 L202.5,530.5 C206,527.5 208.1,525.5 208.1,522 C208.1,518.5 204.5,516.2 199.3,516.2 C194.5,516.2 190.8,519 188.7,523.2 Z" fill="#0c7984" fill-rule="nonzero"/>
<path transform="translate(0 0) scale(1 1)" d="M287.40,532.50 L287.30,535.73 L287.01,538.64 L286.51,541.40 L285.83,544.04 L284.96,546.55 L283.91,548.93 L282.67,551.16 L281.27,553.25 L279.71,555.17 L278.00,556.93 L276.14,558.50 L274.14,559.88 L272.02,561.06 L269.78,562.04 L267.44,562.81 L264.97,563.36 L262.38,563.69 L259.50,563.80 L256.62,563.69 L254.03,563.36 L251.56,562.81 L249.22,562.04 L246.98,561.06 L244.86,559.88 L242.86,558.50 L241.00,556.93 L239.29,555.17 L237.73,553.25 L236.33,551.16 L235.09,548.93 L234.04,546.55 L233.17,544.04 L232.49,541.40 L231.99,538.64 L231.70,535.73 L231.60,532.50 L231.70,529.27 L231.99,526.36 L232.49,523.60 L233.17,520.96 L234.04,518.45 L235.09,516.07 L236.33,513.84 L237.73,511.75 L239.29,509.83 L241.00,508.07 L242.86,506.50 L244.86,505.12 L246.98,503.94 L249.22,502.96 L251.56,502.19 L254.03,501.64 L256.62,501.31 L259.50,501.20 L262.38,501.31 L264.97,501.64 L267.44,502.19 L269.78,502.96 L272.02,503.94 L274.14,505.12 L276.14,506.50 L278.00,508.07 L279.71,509.83 L281.27,511.75 L282.67,513.84 L283.91,516.07 L284.96,518.45 L285.83,520.96 L286.51,523.60 L287.01,526.36 L287.30,529.27 Z M270.85,532.60 L270.81,531.05 L270.68,529.56 L270.47,528.11 L270.18,526.70 L269.81,525.35 L269.36,524.06 L268.84,522.83 L268.25,521.68 L267.59,520.62 L266.87,519.65 L266.10,518.77 L265.27,518.00 L264.40,517.34 L263.48,516.79 L262.54,516.36 L261.56,516.05 L260.55,515.86 L259.50,515.80 L258.45,515.86 L257.44,516.05 L256.46,516.36 L255.52,516.79 L254.60,517.34 L253.73,518.00 L252.90,518.77 L252.13,519.65 L251.41,520.62 L250.75,521.68 L250.16,522.83 L249.64,524.06 L249.19,525.35 L248.82,526.70 L248.53,528.11 L248.32,529.56 L248.19,531.05 L248.15,532.60 L248.19,534.15 L248.32,535.64 L248.53,537.09 L248.82,538.50 L249.19,539.85 L249.64,541.14 L250.16,542.37 L250.75,543.52 L251.41,544.58 L252.13,545.55 L252.90,546.43 L253.73,547.20 L254.60,547.86 L255.52,548.41 L256.46,548.84 L257.44,549.15 L258.45,549.34 L259.50,549.40 L260.55,549.34 L261.56,549.15 L262.54,548.84 L263.48,548.41 L264.40,547.86 L265.27,547.20 L266.10,546.43 L266.87,545.55 L267.59,544.58 L268.25,543.52 L268.84,542.37 L269.36,541.14 L269.81,539.85 L270.18,538.50 L270.47,537.09 L270.68,535.64 L270.81,534.15 Z" fill="#0c7984" fill-rule="nonzero"/>
<path transform="translate(489.2 503.75) scale(1.0086206896551724 1.0140264026402641)" d="M0,0 L46.4,0 L46.4,14.2 L19.6,60.6 L2,60.6 L27.8,14.2 L0,14.2 Z" fill="#0c7984" fill-rule="nonzero"/>
<path transform="translate(788.4 500.9) scale(1 1)" d="M0,4.5 L16,0 L29.5,0 L29.5,60.7 L13.2,60.7 L13.2,16 L2.5,17.5 Z" fill="#0c7984" fill-rule="nonzero"/>
<path transform="translate(826.1 500.9) scale(1 1)" d="M30.4,0 L47.3,0 L47.3,37.3 L54.9,37.3 L54.9,48.7 L47.3,48.7 L47.3,60.8 L31.9,60.8 L31.9,48.7 L1.8,48.7 L0,38.1 Z M31.1,19.7 L31.1,37 L16.9,37 Z" fill="#0c7984" fill-rule="evenodd"/>
<path transform="translate(0 0) scale(1 1)" d="M142.1,708.1 L185.3,708.1 L185.3,719.8 L172.5,732.2 C181,733.8 186.8,740 186.8,748.6 C186.8,760.5 177,769.2 163,769.2 C152,769.2 143.5,765 138.1,758.6 L148.3,749.1 C152,753.5 156.5,755.7 161.5,755.7 C166.5,755.7 170.3,752.5 170.3,748.4 C170.3,744.5 167,742.1 161.5,742.1 L153.4,742.1 L151.6,734.1 L164.4,720.6 L142.1,720.6 Z" fill="#0c7984" fill-rule="nonzero"/>
<path transform="translate(0 0) scale(1 1)" d="M197.8,708.1 L238,708.1 L238,721.6 L210.2,721.6 L210.2,730.4 C212.5,729.4 215,728.9 217.9,728.9 C231,728.9 240.6,737.5 240.6,749.1 C240.6,760.5 231,769.2 215.7,769.2 C205.5,769.2 197,765.5 191.9,760.1 L200.7,749.8 C204.5,754 209.5,756 215.7,756 C220.5,756 224.5,753 224.5,748.7 C224.5,744.3 220.5,741.4 215,741.4 C210.5,741.4 207.5,742.5 205.4,744 L196.3,738.1 Z" fill="#0c7984" fill-rule="nonzero"/>
<path transform="translate(0 0) scale(1 1)" d="M452.8,705.5 C466.5,705.5 478,715.5 478,734.4 C478,756 466,768.5 451.3,768.5 C442,768.5 434.5,765.5 429,761.2 L437,750.5 C440.5,753.5 445,754.9 449.8,754.9 C456.5,754.9 461.2,749.5 461.5,743.2 C458,745.5 455,746.5 451.3,746.5 C437.5,746.5 428.2,737.5 428.2,726.4 C428.2,714 439,705.5 452.8,705.5 Z M452.8,718.7 C447.8,718.7 444,722 444,726.7 C444,731.5 447.8,735.2 452.8,735.2 C457.8,735.2 461.9,731.5 461.9,726.7 C461.9,722 457.8,718.7 452.8,718.7 Z" fill="#0c7984" fill-rule="evenodd"/>
<path transform="translate(0 0) scale(1 1)" d="M486.25,722.00 A22.85,16.5 0 1 1 531.95,722.00 A22.85,16.5 0 1 1 486.25,722.00 Z M484.20,750.50 A24.9,18 0 1 1 534.00,750.50 A24.9,18 0 1 1 484.20,750.50 Z M501.40,724.95 A7.7,6.95 0 1 0 516.80,724.95 A7.7,6.95 0 1 0 501.40,724.95 Z M500.10,749.45 A8.95,6.95 0 1 0 518.00,749.45 A8.95,6.95 0 1 0 500.10,749.45 Z" fill="#0c7984" fill-rule="nonzero"/>
<path transform="translate(0 0) scale(1 1)" d="M596.40,736.85 L596.30,740.12 L596.01,743.06 L595.51,745.85 L594.83,748.52 L593.96,751.05 L592.91,753.46 L591.67,755.72 L590.27,757.83 L588.71,759.78 L587.00,761.55 L585.14,763.14 L583.14,764.54 L581.02,765.73 L578.78,766.72 L576.44,767.50 L573.97,768.05 L571.38,768.39 L568.50,768.50 L565.62,768.39 L563.03,768.05 L560.56,767.50 L558.22,766.72 L555.98,765.73 L553.86,764.54 L551.86,763.14 L550.00,761.55 L548.29,759.78 L546.73,757.83 L545.33,755.72 L544.09,753.46 L543.04,751.05 L542.17,748.52 L541.49,745.85 L540.99,743.06 L540.70,740.12 L540.60,736.85 L540.70,733.58 L540.99,730.64 L541.49,727.85 L542.17,725.18 L543.04,722.65 L544.09,720.24 L545.33,717.98 L546.73,715.87 L548.29,713.92 L550.00,712.15 L551.86,710.56 L553.86,709.16 L555.98,707.97 L558.22,706.98 L560.56,706.20 L563.03,705.65 L565.62,705.31 L568.50,705.20 L571.38,705.31 L573.97,705.65 L576.44,706.20 L578.78,706.98 L581.02,707.97 L583.14,709.16 L585.14,710.56 L587.00,712.15 L588.71,713.92 L590.27,715.87 L591.67,717.98 L592.91,720.24 L593.96,722.65 L594.83,725.18 L595.51,727.85 L596.01,730.64 L596.30,733.58 Z M579.85,736.95 L579.81,735.38 L579.68,733.87 L579.47,732.40 L579.18,730.98 L578.81,729.61 L578.36,728.31 L577.84,727.07 L577.25,725.90 L576.59,724.83 L575.87,723.84 L575.10,722.96 L574.27,722.18 L573.40,721.51 L572.48,720.95 L571.54,720.52 L570.56,720.20 L569.55,720.01 L568.50,719.95 L567.45,720.01 L566.44,720.20 L565.46,720.52 L564.52,720.95 L563.60,721.51 L562.73,722.18 L561.90,722.96 L561.13,723.84 L560.41,724.83 L559.75,725.90 L559.16,727.07 L558.64,728.31 L558.19,729.61 L557.82,730.98 L557.53,732.40 L557.32,733.87 L557.19,735.38 L557.15,736.95 L557.19,738.52 L557.32,740.03 L557.53,741.50 L557.82,742.92 L558.19,744.29 L558.64,745.59 L559.16,746.83 L559.75,748.00 L560.41,749.07 L561.13,750.06 L561.90,750.94 L562.73,751.72 L563.60,752.39 L564.52,752.95 L565.46,753.38 L566.44,753.70 L567.45,753.89 L568.50,753.95 L569.55,753.89 L570.56,753.70 L571.54,753.38 L572.48,752.95 L573.40,752.39 L574.27,751.72 L575.10,750.94 L575.87,750.06 L576.59,749.07 L577.25,748.00 L577.84,746.83 L578.36,745.59 L578.81,744.29 L579.18,742.92 L579.47,741.50 L579.68,740.03 L579.81,738.52 Z" fill="#0c7984" fill-rule="nonzero"/>
<path transform="translate(641.4 -2.5) scale(1 1)" d="M142.1,708.1 L185.3,708.1 L185.3,719.8 L172.5,732.2 C181,733.8 186.8,740 186.8,748.6 C186.8,760.5 177,769.2 163,769.2 C152,769.2 143.5,765 138.1,758.6 L148.3,749.1 C152,753.5 156.5,755.7 161.5,755.7 C166.5,755.7 170.3,752.5 170.3,748.4 C170.3,744.5 167,742.1 161.5,742.1 L153.4,742.1 L151.6,734.1 L164.4,720.6 L142.1,720.6 Z" fill="#0c7984" fill-rule="nonzero"/>
<path transform="translate(407.7 0) scale(1 1)" d="M452.8,705.5 C466.5,705.5 478,715.5 478,734.4 C478,756 466,768.5 451.3,768.5 C442,768.5 434.5,765.5 429,761.2 L437,750.5 C440.5,753.5 445,754.9 449.8,754.9 C456.5,754.9 461.2,749.5 461.5,743.2 C458,745.5 455,746.5 451.3,746.5 C437.5,746.5 428.2,737.5 428.2,726.4 C428.2,714 439,705.5 452.8,705.5 Z M452.8,718.7 C447.8,718.7 444,722 444,726.7 C444,731.5 447.8,735.2 452.8,735.2 C457.8,735.2 461.9,731.5 461.9,726.7 C461.9,722 457.8,718.7 452.8,718.7 Z" fill="#0c7984" fill-rule="evenodd"/>
<path transform="translate(725.90 79.80) scale(0.432)" d="M0,4.5 L16,0 L29.5,0 L29.5,60.7 L13.2,60.7 L13.2,16 L2.5,17.5 Z" fill="#fff" fill-rule="nonzero"/>
<path transform="translate(683.04 -226.10) scale(0.432)" d="M142.1,708.1 L185.3,708.1 L185.3,719.8 L172.5,732.2 C181,733.8 186.8,740 186.8,748.6 C186.8,760.5 177,769.2 163,769.2 C152,769.2 143.5,765 138.1,758.6 L148.3,749.1 C152,753.5 156.5,755.7 161.5,755.7 C166.5,755.7 170.3,752.5 170.3,748.4 C170.3,744.5 167,742.1 161.5,742.1 L153.4,742.1 L151.6,734.1 L164.4,720.6 L142.1,720.6 Z" fill="#fff" fill-rule="nonzero"/>
<rect x="766.1" y="91.5" width="12.5" height="5.9" fill="#fff"/>
<path transform="translate(781.10 79.80) scale(0.432)" d="M0,4.5 L16,0 L29.5,0 L29.5,60.7 L13.2,60.7 L13.2,16 L2.5,17.5 Z" fill="#fff" fill-rule="nonzero"/>
<path transform="translate(720.64 -137.12) scale(0.432)" d="M177.7,514.4 C182,505.5 191,501.2 201.5,501.2 C214.5,501.2 224.6,509.8 224.6,522.5 C224.6,531 220,537 211,542.5 L200.8,549.6 L224.9,549.6 L224.9,563.1 L177,563.1 L177,550.7 L202.5,530.5 C206,527.5 208.1,525.5 208.1,522 C208.1,518.5 204.5,516.2 199.3,516.2 C194.5,516.2 190.8,519 188.7,523.2 Z" fill="#fff" fill-rule="nonzero"/>
<rect x="820.1" y="91.5" width="12.5" height="5.9" fill="#fff"/>
<path transform="translate(759.34 -137.12) scale(0.432)" d="M177.7,514.4 C182,505.5 191,501.2 201.5,501.2 C214.5,501.2 224.6,509.8 224.6,522.5 C224.6,531 220,537 211,542.5 L200.8,549.6 L224.9,549.6 L224.9,563.1 L177,563.1 L177,550.7 L202.5,530.5 C206,527.5 208.1,525.5 208.1,522 C208.1,518.5 204.5,516.2 199.3,516.2 C194.5,516.2 190.8,519 188.7,523.2 Z" fill="#fff" fill-rule="nonzero"/>
<path d="M882.60,92.90 L882.56,94.29 L882.43,95.55 L882.23,96.74 L881.94,97.88 L881.57,98.96 L881.13,99.98 L880.61,100.95 L880.02,101.85 L879.36,102.68 L878.64,103.44 L877.86,104.11 L877.02,104.71 L876.12,105.22 L875.18,105.64 L874.19,105.97 L873.16,106.21 L872.06,106.35 L870.85,106.40 L869.64,106.35 L868.54,106.21 L867.51,105.97 L866.52,105.64 L865.58,105.22 L864.68,104.71 L863.84,104.11 L863.06,103.44 L862.34,102.68 L861.68,101.85 L861.09,100.95 L860.57,99.98 L860.13,98.96 L859.76,97.88 L859.47,96.74 L859.27,95.55 L859.14,94.29 L859.10,92.90 L859.14,91.51 L859.27,90.25 L859.47,89.06 L859.76,87.92 L860.13,86.84 L860.57,85.82 L861.09,84.85 L861.68,83.95 L862.34,83.12 L863.06,82.36 L863.84,81.69 L864.68,81.09 L865.58,80.58 L866.52,80.16 L867.51,79.83 L868.54,79.59 L869.64,79.45 L870.85,79.40 L872.06,79.45 L873.16,79.59 L874.19,79.83 L875.18,80.16 L876.12,80.58 L877.02,81.09 L877.86,81.69 L878.64,82.36 L879.36,83.12 L880.02,83.95 L880.61,84.85 L881.13,85.82 L881.57,86.84 L881.94,87.92 L882.23,89.06 L882.43,90.25 L882.56,91.51 Z M875.50,92.90 L875.48,92.25 L875.43,91.63 L875.35,91.03 L875.23,90.44 L875.07,89.88 L874.89,89.34 L874.68,88.83 L874.44,88.35 L874.17,87.91 L873.87,87.50 L873.55,87.14 L873.21,86.82 L872.86,86.54 L872.48,86.31 L872.09,86.13 L871.69,86.00 L871.28,85.93 L870.85,85.90 L870.42,85.93 L870.01,86.00 L869.61,86.13 L869.22,86.31 L868.84,86.54 L868.49,86.82 L868.15,87.14 L867.83,87.50 L867.53,87.91 L867.26,88.35 L867.02,88.83 L866.81,89.34 L866.63,89.88 L866.47,90.44 L866.35,91.03 L866.27,91.63 L866.22,92.25 L866.20,92.90 L866.22,93.55 L866.27,94.17 L866.35,94.77 L866.47,95.36 L866.63,95.92 L866.81,96.46 L867.02,96.97 L867.26,97.45 L867.53,97.89 L867.83,98.30 L868.15,98.66 L868.49,98.98 L868.84,99.26 L869.22,99.49 L869.61,99.67 L870.01,99.80 L870.42,99.87 L870.85,99.90 L871.28,99.87 L871.69,99.80 L872.09,99.67 L872.48,99.49 L872.86,99.26 L873.21,98.98 L873.55,98.66 L873.87,98.30 L874.17,97.89 L874.44,97.45 L874.68,96.97 L874.89,96.46 L875.07,95.92 L875.23,95.36 L875.35,94.77 L875.43,94.17 L875.48,93.55 Z" fill="#fff" fill-rule="evenodd"/>
<path transform="translate(809.64 -137.12) scale(0.432)" d="M177.7,514.4 C182,505.5 191,501.2 201.5,501.2 C214.5,501.2 224.6,509.8 224.6,522.5 C224.6,531 220,537 211,542.5 L200.8,549.6 L224.9,549.6 L224.9,563.1 L177,563.1 L177,550.7 L202.5,530.5 C206,527.5 208.1,525.5 208.1,522 C208.1,518.5 204.5,516.2 199.3,516.2 C194.5,516.2 190.8,519 188.7,523.2 Z" fill="#fff" fill-rule="nonzero"/>
<path d="M934.10,92.90 L934.06,94.29 L933.93,95.55 L933.72,96.74 L933.42,97.88 L933.04,98.96 L932.58,99.98 L932.05,100.95 L931.44,101.85 L930.77,102.68 L930.02,103.44 L929.21,104.11 L928.35,104.71 L927.43,105.22 L926.46,105.64 L925.44,105.97 L924.37,106.21 L923.25,106.35 L922.00,106.40 L920.75,106.35 L919.63,106.21 L918.56,105.97 L917.54,105.64 L916.57,105.22 L915.65,104.71 L914.79,104.11 L913.98,103.44 L913.23,102.68 L912.56,101.85 L911.95,100.95 L911.42,99.98 L910.96,98.96 L910.58,97.88 L910.28,96.74 L910.07,95.55 L909.94,94.29 L909.90,92.90 L909.94,91.51 L910.07,90.25 L910.28,89.06 L910.58,87.92 L910.96,86.84 L911.42,85.82 L911.95,84.85 L912.56,83.95 L913.23,83.12 L913.98,82.36 L914.79,81.69 L915.65,81.09 L916.57,80.58 L917.54,80.16 L918.56,79.83 L919.63,79.59 L920.75,79.45 L922.00,79.40 L923.25,79.45 L924.37,79.59 L925.44,79.83 L926.46,80.16 L927.43,80.58 L928.35,81.09 L929.21,81.69 L930.02,82.36 L930.77,83.12 L931.44,83.95 L932.05,84.85 L932.58,85.82 L933.04,86.84 L933.42,87.92 L933.72,89.06 L933.93,90.25 L934.06,91.51 Z M926.80,92.90 L926.78,92.25 L926.73,91.63 L926.64,91.03 L926.52,90.44 L926.36,89.88 L926.17,89.34 L925.95,88.83 L925.70,88.35 L925.42,87.91 L925.12,87.50 L924.79,87.14 L924.44,86.82 L924.07,86.54 L923.69,86.31 L923.28,86.13 L922.87,86.00 L922.44,85.93 L922.00,85.90 L921.56,85.93 L921.13,86.00 L920.72,86.13 L920.31,86.31 L919.93,86.54 L919.56,86.82 L919.21,87.14 L918.88,87.50 L918.58,87.91 L918.30,88.35 L918.05,88.83 L917.83,89.34 L917.64,89.88 L917.48,90.44 L917.36,91.03 L917.27,91.63 L917.22,92.25 L917.20,92.90 L917.22,93.55 L917.27,94.17 L917.36,94.77 L917.48,95.36 L917.64,95.92 L917.83,96.46 L918.05,96.97 L918.30,97.45 L918.58,97.89 L918.88,98.30 L919.21,98.66 L919.56,98.98 L919.93,99.26 L920.31,99.49 L920.72,99.67 L921.13,99.80 L921.56,99.87 L922.00,99.90 L922.44,99.87 L922.87,99.80 L923.28,99.67 L923.69,99.49 L924.07,99.26 L924.44,98.98 L924.79,98.66 L925.12,98.30 L925.42,97.89 L925.70,97.45 L925.95,96.97 L926.17,96.46 L926.36,95.92 L926.52,95.36 L926.64,94.77 L926.73,94.17 L926.78,93.55 Z" fill="#fff" fill-rule="evenodd"/>
<defs><g id="mcv" fill="none" stroke="currentColor" stroke-linecap="round" stroke-linejoin="round"><path stroke-width="2.5" d="M816.7,994 L818.9,981 L822.4,988.6 L825.2,981.4 L825.4,993.4 M836.7,981.6 L830,982.3 L829.8,992.8 L836.6,992.2 M830,987.3 L835.2,987 M838.8,983.4 L845.6,982.5 M843.8,982.8 L843.3,992.5 Q842.8,995 840.3,993.2 M858.9,983 L858.9,993 M858.9,983.2 Q864.5,983 863.5,986.5 Q862.5,988.5 859.2,988.3 L863.9,992.6 M878.1,982.6 Q872,984 871.8,988.3 Q872,992 874.6,993.4 M887.9,991.8 L888.3,982.8 L894.2,991 L895.3,982.3"/><ellipse cx="851.3" cy="987.2" rx="4" ry="4.9" stroke-width="2.5"/><ellipse cx="882.6" cy="987.2" rx="3.2" ry="4" stroke-width="2.3"/><path stroke-width="3.2" d="M903.9,978.6 L905.4,995.2 L914.2,980.8 M938.8,979.2 Q933,979.2 932.6,982 Q932.8,984.5 935.6,987 Q937.2,990.8 934.5,993.2 Q932.5,994 930.6,992.6"/><ellipse cx="922.7" cy="987.5" rx="4.8" ry="6" stroke-width="3.4"/></g></defs><use href="#mcv" style="color:#fff"/>
</svg>
</body></html>
